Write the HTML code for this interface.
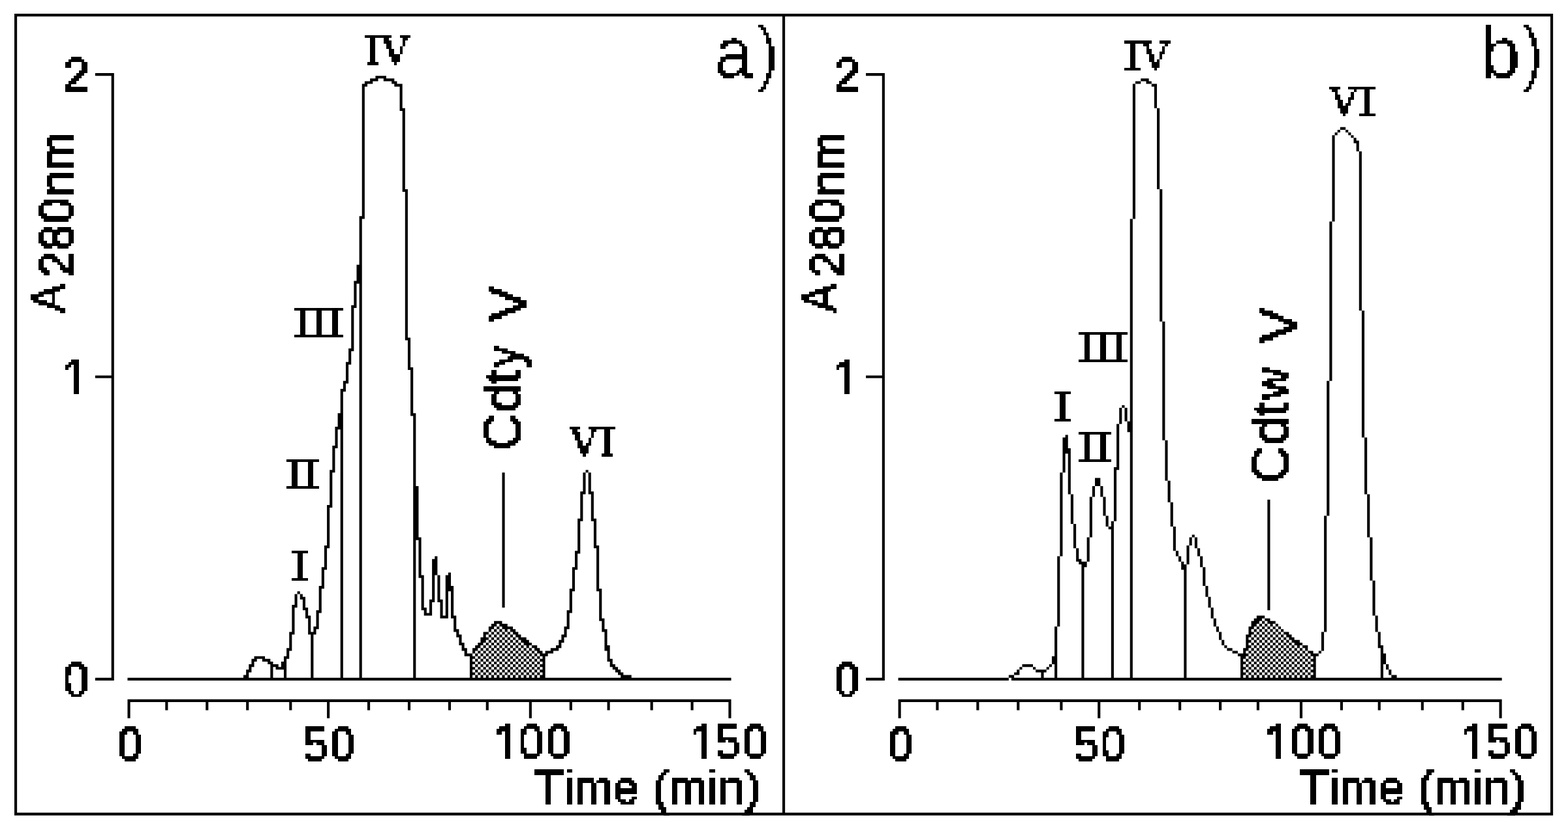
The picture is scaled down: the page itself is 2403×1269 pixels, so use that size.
<!DOCTYPE html>
<html lang="en">
<head>
<meta charset="utf-8">
<title>Chromatograms a) and b)</title>
<style>
html,body{margin:0;padding:0;background:#fff}
body{width:2403px;height:1269px;overflow:hidden}
svg{display:block}
text{fill:#000}
.s{font-family:"Liberation Sans",sans-serif;stroke:#000;stroke-width:1.8px;stroke-linejoin:miter}
.r{font-family:"Liberation Serif",serif;stroke:#000;stroke-width:0.8px}
</style>
</head>
<body>
<svg xmlns="http://www.w3.org/2000/svg" width="2403" height="1269" viewBox="0 0 2403 1269">
<rect width="2403" height="1269" fill="#fff"/>
<path fill="#000" d="M22 21H2380.11V25.14H22ZM145.89 112.02H174.8V116.16H145.89ZM1327.02 112.02H1355.92V116.16H1327.02ZM575.39 116.16H591.91V120.29H575.39ZM567.13 120.29H579.52V124.43H567.13ZM587.78 120.29H604.3V124.43H587.78ZM1748.26 120.29H1760.64V124.43H1748.26ZM1756.52 124.43H1764.77V128.57H1756.52ZM600.17 124.43H608.43V128.57H600.17ZM558.87 124.43H571.26V128.57H558.87ZM1740 124.43H1748.26V128.57H1740ZM604.3 128.57H616.69V132.7H604.3ZM554.74 128.57H563V132.7H554.74ZM1764.77 128.57H1773.03V132.7H1764.77ZM1768.9 132.7H1773.03V165.8H1768.9ZM612.56 132.7H616.69V165.8H612.56ZM612.56 165.8H620.82V169.94H612.56ZM2053.86 194.76H2062.12V198.9H2053.86ZM2062.12 198.9H2066.25V203.04H2062.12ZM2049.73 198.9H2053.86V203.04H2049.73ZM2045.6 203.04H2049.73V207.17H2045.6ZM2066.25 203.04H2070.38V207.17H2066.25ZM2070.38 207.17H2074.51V211.31H2070.38ZM2074.51 211.31H2078.64V215.45H2074.51ZM2074.51 215.45H2082.77V219.59H2074.51ZM2078.64 219.59H2082.77V232H2078.64ZM1773.03 165.8H1777.16V289.92H1773.03ZM616.69 169.94H620.82V289.92H616.69ZM616.69 289.92H624.95V294.06H616.69ZM554.74 132.7H558.87V331.29H554.74ZM1735.87 128.57H1740V335.43H1735.87ZM550.61 331.29H558.87V335.43H550.61ZM2041.47 207.17H2045.6V339.56H2041.47ZM550.61 335.43H554.74V405.76H550.61ZM546.48 405.76H554.74V430.58H546.48ZM542.35 430.58H554.74V434.72H542.35ZM542.35 434.72H546.48V467.82H542.35ZM538.22 467.82H546.48V471.95H538.22ZM2082.77 232H2086.9V476.09H2082.77ZM1777.16 289.92H1781.29V492.64H1777.16ZM620.82 294.06H624.95V517.46H620.82ZM620.82 517.46H629.08V521.6H620.82ZM538.22 471.95H542.35V534.01H538.22ZM534.09 534.01H542.35V538.15H534.09ZM534.09 538.15H538.22V554.7H534.09ZM529.96 554.7H538.22V558.84H529.96ZM624.95 521.6H629.08V562.97H624.95ZM624.95 562.97H633.21V567.11H624.95ZM170.67 116.16H174.8V575.38H170.67ZM1351.79 116.16H1355.92V575.38H1351.79ZM145.89 575.38H174.8V579.52H145.89ZM1327.02 575.38H1355.92V579.52H1327.02ZM2037.34 339.56H2041.47V583.66H2037.34ZM529.96 558.84H534.09V583.66H529.96ZM525.83 583.66H534.09V587.8H525.83ZM525.83 587.8H529.96V596.07H525.83ZM521.7 596.07H529.96V600.21H521.7ZM1719.35 620.89H1723.48V625.03H1719.35ZM629.08 567.11H633.21V633.31H629.08ZM521.7 600.21H525.83V633.31H521.7ZM629.08 633.31H637.34V637.44H629.08ZM1731.74 335.43H1735.87V645.72H1731.74ZM1723.48 625.03H1727.61V645.72H1723.48ZM1715.22 625.03H1719.35V649.85H1715.22ZM517.58 633.31H525.83V653.99H517.58ZM513.45 653.99H525.83V658.13H513.45ZM1727.61 645.72H1735.87V662.27H1727.61ZM2086.9 476.09H2091.03V670.54H2086.9ZM1632.62 666.4H1636.75V670.54H1632.62ZM1781.29 492.64H1785.42V674.68H1781.29ZM513.45 658.13H517.58V682.95H513.45ZM1628.49 670.54H1636.75V687.09H1628.49ZM509.32 682.95H517.58V687.09H509.32ZM1628.49 687.09H1640.88V695.36H1628.49ZM1711.09 649.85H1715.22V716.05H1711.09ZM509.32 687.09H513.45V720.19H509.32ZM1706.96 716.05H1715.22V720.19H1706.96ZM1628.49 695.36H1632.62V724.32H1628.49ZM505.19 720.19H513.45V724.32H505.19ZM897.52 720.19H901.65V724.32H897.52ZM1785.42 674.68H1789.55V736.74H1785.42ZM633.21 637.44H637.34V745.01H633.21ZM1678.05 732.6H1686.31V745.01H1678.05ZM901.65 724.32H905.78V753.28H901.65ZM893.39 724.32H897.52V753.28H893.39ZM2091.03 670.54H2095.16V757.42H2091.03ZM1636.75 695.36H1640.88V757.42H1636.75ZM889.26 753.28H897.52V757.42H889.26ZM901.65 753.28H909.91V757.42H901.65ZM1673.92 745.01H1678.05V761.56H1673.92ZM1686.31 745.01H1690.44V761.56H1686.31ZM1789.55 736.74H1793.68V769.83H1789.55ZM505.19 724.32H509.32V773.97H505.19ZM501.06 773.97H509.32V778.11H501.06ZM2033.21 583.66H2037.34V790.52H2033.21ZM1690.44 761.56H1694.57V790.52H1690.44ZM905.78 757.42H909.91V794.66H905.78ZM889.26 757.42H893.39V794.66H889.26ZM1706.96 720.19H1711.09V798.79H1706.96ZM905.78 794.66H914.04V798.79H905.78ZM885.13 794.66H893.39V798.79H885.13ZM1640.88 757.42H1645.01V802.93H1640.88ZM1793.68 769.83H1797.81V807.07H1793.68ZM1694.57 790.52H1698.7V807.07H1694.57ZM1702.83 798.79H1706.96V807.07H1702.83ZM1698.7 807.07H1706.96V811.21H1698.7ZM633.21 745.01H641.47V823.62H633.21ZM2095.16 757.42H2099.29V823.62H2095.16ZM1669.79 761.56H1673.92V823.62H1669.79ZM1826.72 819.48H1830.85V823.62H1826.72ZM633.21 823.62H645.6V827.75H633.21ZM501.06 778.11H505.19V836.03H501.06ZM909.91 798.79H914.04V836.03H909.91ZM1822.59 823.62H1826.72V836.03H1822.59ZM1645.01 802.93H1649.14V840.17H1645.01ZM1830.85 823.62H1834.98V840.17H1830.85ZM909.91 836.03H918.17V840.17H909.91ZM496.93 836.03H505.19V840.17H496.93ZM885.13 798.79H889.26V844.3H885.13ZM1797.81 807.07H1801.94V844.3H1797.81ZM881 844.3H889.26V848.44H881ZM1624.36 724.32H1628.49V852.58H1624.36ZM1834.98 840.17H1839.11V852.58H1834.98ZM1801.94 844.3H1806.07V852.58H1801.94ZM1649.14 840.17H1653.27V856.71H1649.14ZM666.25 852.58H670.38V856.71H666.25ZM1665.66 823.62H1669.79V860.85H1665.66ZM1806.07 852.58H1810.2V860.85H1806.07ZM1649.14 856.71H1657.4V860.85H1649.14ZM1818.46 836.03H1822.59V864.99H1818.46ZM1810.2 860.85H1814.33V864.99H1810.2ZM1653.27 860.85H1665.66V864.99H1653.27ZM496.93 840.17H501.06V869.13H496.93ZM881 848.44H885.13V869.13H881ZM1839.11 852.58H1843.24V869.13H1839.11ZM1657.4 864.99H1665.66V869.13H1657.4ZM1810.2 864.99H1818.46V873.26H1810.2ZM492.8 869.13H501.06V873.26H492.8ZM876.87 869.13H885.13V873.26H876.87ZM641.47 827.75H645.6V881.54H641.47ZM662.12 856.71H670.38V881.54H662.12ZM686.9 877.4H691.03V881.54H686.9ZM641.47 881.54H649.73V885.67H641.47ZM2099.29 823.62H2103.42V889.81H2099.29ZM1843.24 869.13H1847.37V898.09H1843.24ZM492.8 873.26H496.93V898.09H492.8ZM682.77 881.54H691.03V898.09H682.77ZM914.04 840.17H918.17V902.22H914.04ZM876.87 873.26H881V902.22H876.87ZM488.67 898.09H496.93V902.22H488.67ZM682.77 898.09H695.16V906.36H682.77ZM872.74 902.22H881V906.36H872.74ZM914.04 902.22H922.3V906.36H914.04ZM455.63 906.36H459.76V910.5H455.63ZM1847.37 898.09H1851.5V914.64H1847.37ZM459.76 910.5H463.89V914.64H459.76ZM670.38 881.54H674.51V918.77H670.38ZM662.12 881.54H666.25V918.77H662.12ZM459.76 914.64H468.02V918.77H459.76ZM657.99 918.77H666.25V922.91H657.99ZM670.38 918.77H678.64V922.91H670.38ZM451.5 910.5H455.63V927.05H451.5ZM769.49 724.32H773.62V931.18H769.49ZM645.6 885.67H649.73V931.18H645.6ZM1851.5 914.64H1855.63V931.18H1851.5ZM463.89 918.77H468.02V931.18H463.89ZM447.37 927.05H455.63V931.18H447.37ZM1942.36 765.7H1946.49V935.32H1942.36ZM488.67 902.22H492.8V935.32H488.67ZM872.74 906.36H876.87V935.32H872.74ZM645.6 931.18H653.86V935.32H645.6ZM463.89 931.18H472.15V935.32H463.89ZM657.99 922.91H662.12V939.46H657.99ZM868.61 935.32H876.87V939.46H868.61ZM649.73 935.32H653.86V939.46H649.73ZM484.54 935.32H492.8V939.46H484.54ZM2103.42 889.81H2107.55V943.6H2103.42ZM691.03 906.36H695.16V943.6H691.03ZM682.77 906.36H686.9V943.6H682.77ZM674.51 922.91H678.64V943.6H674.51ZM468.02 935.32H472.15V943.6H468.02ZM649.73 939.46H662.12V943.6H649.73ZM918.17 906.36H922.3V947.73H918.17ZM1855.63 931.18H1859.76V947.73H1855.63ZM468.02 943.6H476.28V947.73H468.02ZM1925.84 943.6H1938.23V947.73H1925.84ZM674.51 943.6H686.9V947.73H674.51ZM691.03 943.6H699.29V947.73H691.03ZM1921.71 947.73H1934.1V951.87H1921.71ZM1938.23 947.73H1946.49V951.87H1938.23ZM918.17 947.73H926.43V951.87H918.17ZM1917.58 951.87H1929.97V956.01H1917.58ZM1942.36 951.87H1954.75V956.01H1942.36ZM1934.1 951.87H1938.23V956.01H1934.1ZM757.1 951.87H769.49V956.01H757.1ZM1620.23 852.58H1624.36V960.14H1620.23ZM484.54 939.46H488.67V960.14H484.54ZM868.61 939.46H872.74V960.14H868.61ZM1859.76 947.73H1863.89V960.14H1859.76ZM752.97 956.01H761.23V960.14H752.97ZM765.36 956.01H777.75V960.14H765.36ZM1946.49 956.01H1950.62V960.14H1946.49ZM1929.97 956.01H1934.1V960.14H1929.97ZM1917.58 956.01H1925.84V960.14H1917.58ZM1954.75 956.01H1958.88V960.14H1954.75ZM1938.23 956.01H1942.36V960.14H1938.23ZM695.16 947.73H699.29V964.28H695.16ZM922.3 951.87H926.43V964.28H922.3ZM864.48 960.14H872.74V964.28H864.48ZM1942.36 960.14H1946.49V964.28H1942.36ZM769.49 960.14H786.01V964.28H769.49ZM1913.45 960.14H1921.71V964.28H1913.45ZM1925.84 960.14H1929.97V964.28H1925.84ZM1950.62 960.14H1954.75V964.28H1950.62ZM480.41 960.14H488.67V964.28H480.41ZM748.84 960.14H757.1V964.28H748.84ZM1934.1 960.14H1938.23V964.28H1934.1ZM761.23 960.14H765.36V964.28H761.23ZM1958.88 960.14H1963.01V964.28H1958.88ZM2029.08 790.52H2033.21V968.42H2029.08ZM447.37 931.18H451.5V968.42H447.37ZM2107.55 943.6H2111.68V968.42H2107.55ZM472.15 947.73H476.28V968.42H472.15ZM1863.89 960.14H1868.02V968.42H1863.89ZM480.41 964.28H484.54V968.42H480.41ZM748.84 964.28H752.97V968.42H748.84ZM1963.01 964.28H1967.13V968.42H1963.01ZM1946.49 964.28H1950.62V968.42H1946.49ZM1929.97 964.28H1934.1V968.42H1929.97ZM695.16 964.28H703.42V968.42H695.16ZM773.62 964.28H777.75V968.42H773.62ZM781.88 964.28H790.14V968.42H781.88ZM1913.45 964.28H1917.58V968.42H1913.45ZM757.1 964.28H761.23V968.42H757.1ZM1921.71 964.28H1925.84V968.42H1921.71ZM1954.75 964.28H1958.88V968.42H1954.75ZM1938.23 964.28H1942.36V968.42H1938.23ZM922.3 964.28H930.56V968.42H922.3ZM765.36 964.28H769.49V968.42H765.36ZM864.48 964.28H868.61V972.56H864.48ZM1942.36 968.42H1946.49V972.56H1942.36ZM1967.13 968.42H1975.39V972.56H1967.13ZM769.49 968.42H773.62V972.56H769.49ZM1913.45 968.42H1921.71V972.56H1913.45ZM1925.84 968.42H1929.97V972.56H1925.84ZM752.97 968.42H757.1V972.56H752.97ZM699.29 968.42H703.42V972.56H699.29ZM740.58 968.42H748.84V972.56H740.58ZM1950.62 968.42H1954.75V972.56H1950.62ZM443.24 968.42H451.5V972.56H443.24ZM777.75 968.42H781.88V972.56H777.75ZM786.01 968.42H794.27V972.56H786.01ZM1934.1 968.42H1938.23V972.56H1934.1ZM472.15 968.42H484.54V972.56H472.15ZM761.23 968.42H765.36V972.56H761.23ZM1958.88 968.42H1963.01V972.56H1958.88ZM1909.32 972.56H1917.58V976.69H1909.32ZM790.14 972.56H798.4V976.69H790.14ZM748.84 972.56H752.97V976.69H748.84ZM699.29 972.56H707.55V976.69H699.29ZM1971.26 972.56H1979.52V976.69H1971.26ZM1963.01 972.56H1967.13V976.69H1963.01ZM1946.49 972.56H1950.62V976.69H1946.49ZM1929.97 972.56H1934.1V976.69H1929.97ZM773.62 972.56H777.75V976.69H773.62ZM757.1 972.56H761.23V976.69H757.1ZM860.35 972.56H868.61V976.69H860.35ZM1954.75 972.56H1958.88V976.69H1954.75ZM740.58 972.56H744.71V976.69H740.58ZM1938.23 972.56H1942.36V976.69H1938.23ZM781.88 972.56H786.01V976.69H781.88ZM1921.71 972.56H1925.84V976.69H1921.71ZM765.36 972.56H769.49V976.69H765.36ZM1868.02 968.42H1872.15V980.83H1868.02ZM794.27 976.69H806.66V980.83H794.27ZM1917.58 976.69H1921.71V980.83H1917.58ZM1942.36 976.69H1946.49V980.83H1942.36ZM786.01 976.69H790.14V980.83H786.01ZM860.35 976.69H864.48V980.83H860.35ZM769.49 976.69H773.62V980.83H769.49ZM1925.84 976.69H1929.97V980.83H1925.84ZM1909.32 976.69H1913.45V980.83H1909.32ZM752.97 976.69H757.1V980.83H752.97ZM1967.13 976.69H1971.26V980.83H1967.13ZM1975.39 976.69H1983.65V980.83H1975.39ZM1950.62 976.69H1954.75V980.83H1950.62ZM777.75 976.69H781.88V980.83H777.75ZM736.45 976.69H748.84V980.83H736.45ZM1934.1 976.69H1938.23V980.83H1934.1ZM761.23 976.69H765.36V980.83H761.23ZM1958.88 976.69H1963.01V980.83H1958.88ZM703.42 976.69H707.55V984.97H703.42ZM798.4 980.83H810.79V984.97H798.4ZM1909.32 980.83H1917.58V984.97H1909.32ZM748.84 980.83H752.97V984.97H748.84ZM736.45 980.83H744.71V984.97H736.45ZM1963.01 980.83H1967.13V984.97H1963.01ZM1979.52 980.83H1991.91V984.97H1979.52ZM856.22 980.83H864.48V984.97H856.22ZM790.14 980.83H794.27V984.97H790.14ZM1946.49 980.83H1950.62V984.97H1946.49ZM1929.97 980.83H1934.1V984.97H1929.97ZM773.62 980.83H777.75V984.97H773.62ZM1971.26 980.83H1975.39V984.97H1971.26ZM757.1 980.83H761.23V984.97H757.1ZM1954.75 980.83H1958.88V984.97H1954.75ZM1938.23 980.83H1942.36V984.97H1938.23ZM781.88 980.83H786.01V984.97H781.88ZM1921.71 980.83H1925.84V984.97H1921.71ZM765.36 980.83H769.49V984.97H765.36ZM2111.68 968.42H2115.81V989.1H2111.68ZM926.43 968.42H930.56V989.1H926.43ZM1872.15 980.83H1876.28V989.1H1872.15ZM744.71 984.97H748.84V989.1H744.71ZM1917.58 984.97H1921.71V989.1H1917.58ZM786.01 984.97H790.14V989.1H786.01ZM1942.36 984.97H1946.49V989.1H1942.36ZM769.49 984.97H773.62V989.1H769.49ZM1925.84 984.97H1929.97V989.1H1925.84ZM802.53 984.97H814.92V989.1H802.53ZM1909.32 984.97H1913.45V989.1H1909.32ZM752.97 984.97H757.1V989.1H752.97ZM703.42 984.97H711.68V989.1H703.42ZM1967.13 984.97H1971.26V989.1H1967.13ZM1950.62 984.97H1954.75V989.1H1950.62ZM794.27 984.97H798.4V989.1H794.27ZM777.75 984.97H781.88V989.1H777.75ZM1983.65 984.97H1996.04V989.1H1983.65ZM856.22 984.97H860.35V989.1H856.22ZM1958.88 984.97H1963.01V989.1H1958.88ZM1934.1 984.97H1938.23V989.1H1934.1ZM1975.39 984.97H1979.52V989.1H1975.39ZM761.23 984.97H765.36V989.1H761.23ZM732.32 984.97H740.58V989.1H732.32ZM443.24 972.56H447.37V993.24H443.24ZM707.55 989.1H711.68V993.24H707.55ZM1909.32 989.1H1917.58V993.24H1909.32ZM1979.52 989.1H1983.65V993.24H1979.52ZM748.84 989.1H752.97V993.24H748.84ZM806.66 989.1H810.79V993.24H806.66ZM814.92 989.1H823.18V993.24H814.92ZM852.09 989.1H860.35V993.24H852.09ZM1963.01 989.1H1967.13V993.24H1963.01ZM1946.49 989.1H1950.62V993.24H1946.49ZM790.14 989.1H794.27V993.24H790.14ZM1987.78 989.1H1991.91V993.24H1987.78ZM1929.97 989.1H1934.1V993.24H1929.97ZM773.62 989.1H777.75V993.24H773.62ZM1971.26 989.1H1975.39V993.24H1971.26ZM757.1 989.1H761.23V993.24H757.1ZM1996.04 989.1H2004.3V993.24H1996.04ZM798.4 989.1H802.53V993.24H798.4ZM1876.28 989.1H1880.41V993.24H1876.28ZM2111.68 989.1H2119.94V993.24H2111.68ZM1954.75 989.1H1958.88V993.24H1954.75ZM728.19 989.1H736.45V993.24H728.19ZM740.58 989.1H744.71V993.24H740.58ZM1938.23 989.1H1942.36V993.24H1938.23ZM781.88 989.1H786.01V993.24H781.88ZM1921.71 989.1H1925.84V993.24H1921.71ZM765.36 989.1H769.49V993.24H765.36ZM2024.95 968.42H2029.08V997.38H2024.95ZM926.43 989.1H934.68V997.38H926.43ZM744.71 993.24H748.84V997.38H744.71ZM1917.58 993.24H1921.71V997.38H1917.58ZM1942.36 993.24H1946.49V997.38H1942.36ZM786.01 993.24H790.14V997.38H786.01ZM2000.17 993.24H2004.3V997.38H2000.17ZM769.49 993.24H773.62V997.38H769.49ZM1925.84 993.24H1929.97V997.38H1925.84ZM1983.65 993.24H1987.78V997.38H1983.65ZM752.97 993.24H757.1V997.38H752.97ZM736.45 993.24H740.58V997.38H736.45ZM843.83 993.24H856.22V997.38H843.83ZM439.11 993.24H447.37V997.38H439.11ZM810.79 993.24H814.92V997.38H810.79ZM819.05 993.24H827.31V997.38H819.05ZM1967.13 993.24H1971.26V997.38H1967.13ZM1880.41 993.24H1888.67V997.38H1880.41ZM724.07 993.24H732.32V997.38H724.07ZM794.27 993.24H798.4V997.38H794.27ZM1950.62 993.24H1954.75V997.38H1950.62ZM1991.91 993.24H1996.04V997.38H1991.91ZM707.55 993.24H715.81V997.38H707.55ZM777.75 993.24H781.88V997.38H777.75ZM1934.1 993.24H1938.23V997.38H1934.1ZM1905.19 993.24H1913.45V997.38H1905.19ZM1975.39 993.24H1979.52V997.38H1975.39ZM761.23 993.24H765.36V997.38H761.23ZM1958.88 993.24H1963.01V997.38H1958.88ZM802.53 993.24H806.66V997.38H802.53ZM2115.81 993.24H2119.94V1001.52H2115.81ZM835.57 997.38H847.96V1001.52H835.57ZM1996.04 997.38H2000.17V1001.52H1996.04ZM1979.52 997.38H1983.65V1001.52H1979.52ZM748.84 997.38H752.97V1001.52H748.84ZM2004.3 997.38H2012.56V1001.52H2004.3ZM806.66 997.38H810.79V1001.52H806.66ZM1905.19 997.38H1909.32V1001.52H1905.19ZM711.68 997.38H715.81V1001.52H711.68ZM2020.82 997.38H2024.95V1001.52H2020.82ZM1963.01 997.38H1967.13V1001.52H1963.01ZM732.32 997.38H736.45V1001.52H732.32ZM1946.49 997.38H1950.62V1001.52H1946.49ZM790.14 997.38H794.27V1001.52H790.14ZM1987.78 997.38H1991.91V1001.52H1987.78ZM1929.97 997.38H1934.1V1001.52H1929.97ZM773.62 997.38H777.75V1001.52H773.62ZM1971.26 997.38H1975.39V1001.52H1971.26ZM814.92 997.38H819.05V1001.52H814.92ZM1913.45 997.38H1917.58V1001.52H1913.45ZM757.1 997.38H761.23V1001.52H757.1ZM798.4 997.38H802.53V1001.52H798.4ZM823.18 997.38H831.44V1001.52H823.18ZM1954.75 997.38H1958.88V1001.52H1954.75ZM740.58 997.38H744.71V1001.52H740.58ZM1938.23 997.38H1942.36V1001.52H1938.23ZM781.88 997.38H786.01V1001.52H781.88ZM724.07 997.38H728.19V1001.52H724.07ZM1888.67 997.38H1896.93V1001.52H1888.67ZM1921.71 997.38H1925.84V1001.52H1921.71ZM765.36 997.38H769.49V1001.52H765.36ZM1616.1 960.14H1620.23V1005.65H1616.1ZM439.11 997.38H443.24V1005.65H439.11ZM744.71 1001.52H748.84V1005.65H744.71ZM1917.58 1001.52H1921.71V1005.65H1917.58ZM1942.36 1001.52H1946.49V1005.65H1942.36ZM786.01 1001.52H790.14V1005.65H786.01ZM728.19 1001.52H732.32V1005.65H728.19ZM2000.17 1001.52H2004.3V1005.65H2000.17ZM769.49 1001.52H773.62V1005.65H769.49ZM1925.84 1001.52H1929.97V1005.65H1925.84ZM1983.65 1001.52H1987.78V1005.65H1983.65ZM752.97 1001.52H757.1V1005.65H752.97ZM736.45 1001.52H740.58V1005.65H736.45ZM810.79 1001.52H814.92V1005.65H810.79ZM711.68 1001.52H724.07V1005.65H711.68ZM1967.13 1001.52H1971.26V1005.65H1967.13ZM1950.62 1001.52H1954.75V1005.65H1950.62ZM794.27 1001.52H798.4V1005.65H794.27ZM827.31 1001.52H839.7V1005.65H827.31ZM1991.91 1001.52H1996.04V1005.65H1991.91ZM777.75 1001.52H781.88V1005.65H777.75ZM1934.1 1001.52H1938.23V1005.65H1934.1ZM1896.93 1001.52H1913.45V1005.65H1896.93ZM2008.43 1001.52H2020.82V1005.65H2008.43ZM1975.39 1001.52H1979.52V1005.65H1975.39ZM819.05 1001.52H823.18V1005.65H819.05ZM761.23 1001.52H765.36V1005.65H761.23ZM1958.88 1001.52H1963.01V1005.65H1958.88ZM802.53 1001.52H806.66V1005.65H802.53ZM930.56 997.38H934.68V1009.79H930.56ZM1996.04 1005.65H2000.17V1009.79H1996.04ZM1979.52 1005.65H1983.65V1009.79H1979.52ZM748.84 1005.65H752.97V1009.79H748.84ZM823.18 1005.65H827.31V1009.79H823.18ZM806.66 1005.65H810.79V1009.79H806.66ZM389.55 1005.65H406.07V1009.79H389.55ZM719.94 1005.65H728.19V1009.79H719.94ZM1963.01 1005.65H1967.13V1009.79H1963.01ZM434.98 1005.65H443.24V1009.79H434.98ZM732.32 1005.65H736.45V1009.79H732.32ZM1946.49 1005.65H1950.62V1009.79H1946.49ZM790.14 1005.65H794.27V1009.79H790.14ZM1987.78 1005.65H1991.91V1009.79H1987.78ZM1929.97 1005.65H1934.1V1009.79H1929.97ZM773.62 1005.65H777.75V1009.79H773.62ZM2004.3 1005.65H2008.43V1009.79H2004.3ZM1971.26 1005.65H1975.39V1009.79H1971.26ZM814.92 1005.65H819.05V1009.79H814.92ZM1913.45 1005.65H1917.58V1009.79H1913.45ZM757.1 1005.65H761.23V1009.79H757.1ZM831.44 1005.65H835.57V1009.79H831.44ZM798.4 1005.65H802.53V1009.79H798.4ZM1901.06 1005.65H1909.32V1009.79H1901.06ZM1954.75 1005.65H1958.88V1009.79H1954.75ZM740.58 1005.65H744.71V1009.79H740.58ZM1938.23 1005.65H1942.36V1009.79H1938.23ZM2012.56 1005.65H2016.69V1009.79H2012.56ZM781.88 1005.65H786.01V1009.79H781.88ZM1921.71 1005.65H1925.84V1009.79H1921.71ZM765.36 1005.65H769.49V1009.79H765.36ZM827.31 1009.79H835.57V1013.93H827.31ZM1901.06 1009.79H1905.19V1013.93H1901.06ZM744.71 1009.79H748.84V1013.93H744.71ZM1917.58 1009.79H1921.71V1013.93H1917.58ZM1942.36 1009.79H1946.49V1013.93H1942.36ZM786.01 1009.79H790.14V1013.93H786.01ZM728.19 1009.79H732.32V1013.93H728.19ZM401.94 1009.79H414.33V1013.93H401.94ZM2000.17 1009.79H2004.3V1013.93H2000.17ZM769.49 1009.79H773.62V1013.93H769.49ZM2008.43 1009.79H2016.69V1013.93H2008.43ZM1925.84 1009.79H1929.97V1013.93H1925.84ZM1909.32 1009.79H1913.45V1013.93H1909.32ZM1983.65 1009.79H1987.78V1013.93H1983.65ZM752.97 1009.79H757.1V1013.93H752.97ZM930.56 1009.79H938.81V1013.93H930.56ZM736.45 1009.79H740.58V1013.93H736.45ZM810.79 1009.79H814.92V1013.93H810.79ZM1967.13 1009.79H1971.26V1013.93H1967.13ZM385.42 1009.79H393.68V1013.93H385.42ZM719.94 1009.79H724.07V1013.93H719.94ZM794.27 1009.79H798.4V1013.93H794.27ZM1950.62 1009.79H1954.75V1013.93H1950.62ZM434.98 1009.79H439.11V1013.93H434.98ZM1991.91 1009.79H1996.04V1013.93H1991.91ZM777.75 1009.79H781.88V1013.93H777.75ZM1934.1 1009.79H1938.23V1013.93H1934.1ZM1975.39 1009.79H1979.52V1013.93H1975.39ZM819.05 1009.79H823.18V1013.93H819.05ZM761.23 1009.79H765.36V1013.93H761.23ZM1958.88 1009.79H1963.01V1013.93H1958.88ZM802.53 1009.79H806.66V1013.93H802.53ZM2115.81 1001.52H2124.07V1018.07H2115.81ZM1611.97 1005.65H1620.23V1018.07H1611.97ZM934.68 1013.93H938.81V1018.07H934.68ZM1996.04 1013.93H2000.17V1018.07H1996.04ZM410.2 1013.93H418.46V1018.07H410.2ZM1979.52 1013.93H1983.65V1018.07H1979.52ZM748.84 1013.93H752.97V1018.07H748.84ZM823.18 1013.93H827.31V1018.07H823.18ZM806.66 1013.93H810.79V1018.07H806.66ZM719.94 1013.93H728.19V1018.07H719.94ZM1963.01 1013.93H1967.13V1018.07H1963.01ZM732.32 1013.93H736.45V1018.07H732.32ZM1946.49 1013.93H1950.62V1018.07H1946.49ZM790.14 1013.93H794.27V1018.07H790.14ZM1987.78 1013.93H1991.91V1018.07H1987.78ZM1929.97 1013.93H1934.1V1018.07H1929.97ZM773.62 1013.93H777.75V1018.07H773.62ZM2004.3 1013.93H2008.43V1018.07H2004.3ZM1971.26 1013.93H1975.39V1018.07H1971.26ZM814.92 1013.93H819.05V1018.07H814.92ZM1913.45 1013.93H1917.58V1018.07H1913.45ZM757.1 1013.93H761.23V1018.07H757.1ZM831.44 1013.93H835.57V1018.07H831.44ZM798.4 1013.93H802.53V1018.07H798.4ZM1901.06 1013.93H1909.32V1018.07H1901.06ZM1954.75 1013.93H1958.88V1018.07H1954.75ZM740.58 1013.93H744.71V1018.07H740.58ZM1938.23 1013.93H1942.36V1018.07H1938.23ZM385.42 1013.93H389.55V1018.07H385.42ZM2012.56 1013.93H2016.69V1018.07H2012.56ZM781.88 1013.93H786.01V1018.07H781.88ZM1921.71 1013.93H1925.84V1018.07H1921.71ZM765.36 1013.93H769.49V1018.07H765.36ZM430.85 1013.93H439.11V1022.2H430.85ZM827.31 1018.07H835.57V1022.2H827.31ZM1901.06 1018.07H1905.19V1022.2H1901.06ZM744.71 1018.07H748.84V1022.2H744.71ZM1917.58 1018.07H1921.71V1022.2H1917.58ZM1942.36 1018.07H1946.49V1022.2H1942.36ZM786.01 1018.07H790.14V1022.2H786.01ZM728.19 1018.07H732.32V1022.2H728.19ZM2000.17 1018.07H2004.3V1022.2H2000.17ZM769.49 1018.07H773.62V1022.2H769.49ZM2008.43 1018.07H2016.69V1022.2H2008.43ZM1925.84 1018.07H1929.97V1022.2H1925.84ZM1909.32 1018.07H1913.45V1022.2H1909.32ZM1566.54 1018.07H1583.06V1022.2H1566.54ZM1983.65 1018.07H1987.78V1022.2H1983.65ZM752.97 1018.07H757.1V1022.2H752.97ZM736.45 1018.07H740.58V1022.2H736.45ZM810.79 1018.07H814.92V1022.2H810.79ZM1967.13 1018.07H1971.26V1022.2H1967.13ZM381.29 1018.07H389.55V1022.2H381.29ZM1607.84 1018.07H1611.97V1022.2H1607.84ZM1950.62 1018.07H1954.75V1022.2H1950.62ZM719.94 1018.07H724.07V1022.2H719.94ZM794.27 1018.07H798.4V1022.2H794.27ZM934.68 1018.07H942.94V1022.2H934.68ZM1991.91 1018.07H1996.04V1022.2H1991.91ZM777.75 1018.07H781.88V1022.2H777.75ZM1934.1 1018.07H1938.23V1022.2H1934.1ZM414.33 1018.07H426.72V1022.2H414.33ZM819.05 1018.07H823.18V1022.2H819.05ZM1975.39 1018.07H1979.52V1022.2H1975.39ZM761.23 1018.07H765.36V1022.2H761.23ZM1958.88 1018.07H1963.01V1022.2H1958.88ZM802.53 1018.07H806.66V1022.2H802.53ZM2124.07 1018.07H2128.2V1026.34H2124.07ZM1996.04 1022.2H2000.17V1026.34H1996.04ZM1979.52 1022.2H1983.65V1026.34H1979.52ZM748.84 1022.2H752.97V1026.34H748.84ZM823.18 1022.2H827.31V1026.34H823.18ZM1562.41 1022.2H1566.54V1026.34H1562.41ZM806.66 1022.2H810.79V1026.34H806.66ZM1583.06 1022.2H1587.19V1026.34H1583.06ZM719.94 1022.2H728.19V1026.34H719.94ZM1963.01 1022.2H1967.13V1026.34H1963.01ZM732.32 1022.2H736.45V1026.34H732.32ZM1603.71 1022.2H1607.84V1026.34H1603.71ZM1946.49 1022.2H1950.62V1026.34H1946.49ZM790.14 1022.2H794.27V1026.34H790.14ZM1987.78 1022.2H1991.91V1026.34H1987.78ZM1929.97 1022.2H1934.1V1026.34H1929.97ZM773.62 1022.2H777.75V1026.34H773.62ZM2004.3 1022.2H2008.43V1026.34H2004.3ZM1971.26 1022.2H1975.39V1026.34H1971.26ZM814.92 1022.2H819.05V1026.34H814.92ZM1913.45 1022.2H1917.58V1026.34H1913.45ZM757.1 1022.2H761.23V1026.34H757.1ZM831.44 1022.2H835.57V1026.34H831.44ZM798.4 1022.2H802.53V1026.34H798.4ZM1901.06 1022.2H1909.32V1026.34H1901.06ZM1954.75 1022.2H1958.88V1026.34H1954.75ZM740.58 1022.2H744.71V1026.34H740.58ZM938.81 1022.2H947.07V1026.34H938.81ZM1938.23 1022.2H1942.36V1026.34H1938.23ZM381.29 1022.2H385.42V1026.34H381.29ZM2012.56 1022.2H2016.69V1026.34H2012.56ZM781.88 1022.2H786.01V1026.34H781.88ZM422.59 1022.2H439.11V1026.34H422.59ZM1921.71 1022.2H1925.84V1026.34H1921.71ZM765.36 1022.2H769.49V1026.34H765.36ZM827.31 1026.34H835.57V1030.48H827.31ZM1901.06 1026.34H1905.19V1030.48H1901.06ZM744.71 1026.34H748.84V1030.48H744.71ZM1917.58 1026.34H1921.71V1030.48H1917.58ZM942.94 1026.34H951.2V1030.48H942.94ZM786.01 1026.34H790.14V1030.48H786.01ZM1942.36 1026.34H1946.49V1030.48H1942.36ZM728.19 1026.34H732.32V1030.48H728.19ZM2000.17 1026.34H2004.3V1030.48H2000.17ZM769.49 1026.34H773.62V1030.48H769.49ZM377.16 1026.34H385.42V1030.48H377.16ZM2008.43 1026.34H2016.69V1030.48H2008.43ZM1925.84 1026.34H1929.97V1030.48H1925.84ZM1909.32 1026.34H1913.45V1030.48H1909.32ZM1983.65 1026.34H1987.78V1030.48H1983.65ZM752.97 1026.34H757.1V1030.48H752.97ZM1587.19 1026.34H1603.71V1030.48H1587.19ZM736.45 1026.34H740.58V1030.48H736.45ZM810.79 1026.34H814.92V1030.48H810.79ZM1967.13 1026.34H1971.26V1030.48H1967.13ZM1950.62 1026.34H1954.75V1030.48H1950.62ZM719.94 1026.34H724.07V1030.48H719.94ZM794.27 1026.34H798.4V1030.48H794.27ZM1991.91 1026.34H1996.04V1030.48H1991.91ZM777.75 1026.34H781.88V1030.48H777.75ZM1558.28 1026.34H1562.41V1030.48H1558.28ZM1934.1 1026.34H1938.23V1030.48H1934.1ZM1975.39 1026.34H1979.52V1030.48H1975.39ZM819.05 1026.34H823.18V1030.48H819.05ZM761.23 1026.34H765.36V1030.48H761.23ZM1958.88 1026.34H1963.01V1030.48H1958.88ZM802.53 1026.34H806.66V1030.48H802.53ZM2128.2 1026.34H2132.33V1034.61H2128.2ZM1996.04 1030.48H2000.17V1034.61H1996.04ZM1979.52 1030.48H1983.65V1034.61H1979.52ZM748.84 1030.48H752.97V1034.61H748.84ZM823.18 1030.48H827.31V1034.61H823.18ZM806.66 1030.48H810.79V1034.61H806.66ZM719.94 1030.48H728.19V1034.61H719.94ZM1963.01 1030.48H1967.13V1034.61H1963.01ZM732.32 1030.48H736.45V1034.61H732.32ZM947.07 1030.48H955.33V1034.61H947.07ZM1946.49 1030.48H1950.62V1034.61H1946.49ZM790.14 1030.48H794.27V1034.61H790.14ZM1554.15 1030.48H1562.41V1034.61H1554.15ZM1987.78 1030.48H1991.91V1034.61H1987.78ZM1929.97 1030.48H1934.1V1034.61H1929.97ZM377.16 1030.48H381.29V1034.61H377.16ZM773.62 1030.48H777.75V1034.61H773.62ZM2004.3 1030.48H2008.43V1034.61H2004.3ZM1971.26 1030.48H1975.39V1034.61H1971.26ZM814.92 1030.48H819.05V1034.61H814.92ZM1913.45 1030.48H1917.58V1034.61H1913.45ZM757.1 1030.48H761.23V1034.61H757.1ZM831.44 1030.48H835.57V1034.61H831.44ZM798.4 1030.48H802.53V1034.61H798.4ZM1901.06 1030.48H1909.32V1034.61H1901.06ZM1954.75 1030.48H1958.88V1034.61H1954.75ZM740.58 1030.48H744.71V1034.61H740.58ZM1938.23 1030.48H1942.36V1034.61H1938.23ZM2012.56 1030.48H2016.69V1034.61H2012.56ZM781.88 1030.48H786.01V1034.61H781.88ZM1921.71 1030.48H1925.84V1034.61H1921.71ZM765.36 1030.48H769.49V1034.61H765.36ZM550.61 434.72H554.74V1038.75H550.61ZM170.67 579.52H174.8V1038.75H170.67ZM1351.79 579.52H1355.92V1038.75H1351.79ZM521.7 658.13H525.83V1038.75H521.7ZM1731.74 662.27H1735.87V1038.75H1731.74ZM1702.83 811.21H1706.96V1038.75H1702.83ZM633.21 827.75H637.34V1038.75H633.21ZM1657.4 869.13H1661.53V1038.75H1657.4ZM1814.33 873.26H1818.46V1038.75H1814.33ZM476.28 972.56H480.41V1038.75H476.28ZM1616.1 1018.07H1620.23V1038.75H1616.1ZM2115.81 1018.07H2119.94V1038.75H2115.81ZM414.33 1022.2H418.46V1038.75H414.33ZM434.98 1026.34H439.11V1038.75H434.98ZM1595.45 1030.48H1599.58V1038.75H1595.45ZM373.03 1034.61H381.29V1038.75H373.03ZM827.31 1034.61H835.57V1038.75H827.31ZM1901.06 1034.61H1905.19V1038.75H1901.06ZM744.71 1034.61H748.84V1038.75H744.71ZM1917.58 1034.61H1921.71V1038.75H1917.58ZM1942.36 1034.61H1946.49V1038.75H1942.36ZM786.01 1034.61H790.14V1038.75H786.01ZM728.19 1034.61H732.32V1038.75H728.19ZM2000.17 1034.61H2004.3V1038.75H2000.17ZM769.49 1034.61H773.62V1038.75H769.49ZM2008.43 1034.61H2016.69V1038.75H2008.43ZM1925.84 1034.61H1929.97V1038.75H1925.84ZM1909.32 1034.61H1913.45V1038.75H1909.32ZM1983.65 1034.61H1987.78V1038.75H1983.65ZM752.97 1034.61H757.1V1038.75H752.97ZM736.45 1034.61H740.58V1038.75H736.45ZM810.79 1034.61H814.92V1038.75H810.79ZM1967.13 1034.61H1971.26V1038.75H1967.13ZM1950.62 1034.61H1954.75V1038.75H1950.62ZM719.94 1034.61H724.07V1038.75H719.94ZM794.27 1034.61H798.4V1038.75H794.27ZM1991.91 1034.61H1996.04V1038.75H1991.91ZM777.75 1034.61H781.88V1038.75H777.75ZM1934.1 1034.61H1938.23V1038.75H1934.1ZM2132.33 1034.61H2140.59V1038.75H2132.33ZM1545.9 1034.61H1554.15V1038.75H1545.9ZM1975.39 1034.61H1979.52V1038.75H1975.39ZM819.05 1034.61H823.18V1038.75H819.05ZM951.2 1034.61H967.72V1038.75H951.2ZM761.23 1034.61H765.36V1038.75H761.23ZM1958.88 1034.61H1963.01V1038.75H1958.88ZM802.53 1034.61H806.66V1038.75H802.53ZM1376.57 1038.75H1545.9V1042.89H1376.57ZM1550.03 1038.75H2301.65V1042.89H1550.03ZM195.45 1038.75H1120.53V1042.89H195.45ZM145.89 1038.75H174.8V1042.89H145.89ZM1327.02 1038.75H1355.92V1042.89H1327.02ZM1376.57 1071.85H2301.65V1075.99H1376.57ZM195.45 1071.85H1120.53V1075.99H195.45ZM253.27 1075.99H257.4V1088.4H253.27ZM443.24 1075.99H447.37V1088.4H443.24ZM744.71 1075.99H748.84V1088.4H744.71ZM2111.68 1075.99H2115.81V1088.4H2111.68ZM2053.86 1075.99H2057.99V1088.4H2053.86ZM1868.02 1075.99H1872.15V1088.4H1868.02ZM315.21 1075.99H319.34V1088.4H315.21ZM563 1075.99H567.13V1088.4H563ZM1925.84 1075.99H1929.97V1088.4H1925.84ZM996.63 1075.99H1000.76V1088.4H996.63ZM1434.39 1075.99H1438.52V1088.4H1434.39ZM2177.75 1075.99H2181.88V1088.4H2177.75ZM1058.58 1075.99H1062.71V1088.4H1058.58ZM1624.36 1075.99H1628.49V1088.4H1624.36ZM377.16 1075.99H381.29V1088.4H377.16ZM624.95 1075.99H629.08V1088.4H624.95ZM1496.34 1075.99H1500.47V1088.4H1496.34ZM872.74 1075.99H876.87V1088.4H872.74ZM1744.13 1075.99H1748.26V1088.4H1744.13ZM1558.28 1075.99H1562.41V1088.4H1558.28ZM930.56 1075.99H934.68V1088.4H930.56ZM2239.7 1075.99H2243.83V1088.4H2239.7ZM1806.07 1075.99H1810.2V1088.4H1806.07ZM686.9 1075.99H691.03V1088.4H686.9ZM2297.52 1075.99H2301.65V1100.81H2297.52ZM501.06 1075.99H505.19V1100.81H501.06ZM1376.57 1075.99H1380.7V1100.81H1376.57ZM1682.18 1075.99H1686.31V1100.81H1682.18ZM810.79 1075.99H814.92V1100.81H810.79ZM1116.4 1075.99H1120.53V1100.81H1116.4ZM1991.91 1075.99H1996.04V1100.81H1991.91ZM195.45 1075.99H199.58V1100.81H195.45ZM1198.99 25.14H1203.12V1245.61H1198.99ZM22 25.14H26.13V1245.61H22ZM2375.99 25.14H2380.11V1245.61H2375.99ZM22 1245.61H2380.11V1249.75H22Z"/>
<defs>
<mask id="mv" maskUnits="userSpaceOnUse" x="0" y="0" width="2403" height="1269"><path fill="#fff" d="M3 0h1V1269h-1ZM7 0h1V1269h-1ZM12 0h1V1269h-1ZM16 0h1V1269h-1ZM20 0h1V1269h-1ZM24 0h1V1269h-1ZM28 0h1V1269h-1ZM32 0h1V1269h-1ZM36 0h1V1269h-1ZM41 0h1V1269h-1ZM45 0h1V1269h-1ZM49 0h1V1269h-1ZM53 0h1V1269h-1ZM57 0h1V1269h-1ZM61 0h1V1269h-1ZM65 0h1V1269h-1ZM69 0h1V1269h-1ZM74 0h1V1269h-1ZM78 0h1V1269h-1ZM82 0h1V1269h-1ZM86 0h1V1269h-1ZM90 0h1V1269h-1ZM94 0h1V1269h-1ZM98 0h1V1269h-1ZM102 0h1V1269h-1ZM107 0h1V1269h-1ZM111 0h1V1269h-1ZM115 0h1V1269h-1ZM119 0h1V1269h-1ZM123 0h1V1269h-1ZM127 0h1V1269h-1ZM131 0h1V1269h-1ZM136 0h1V1269h-1ZM140 0h1V1269h-1ZM144 0h1V1269h-1ZM148 0h1V1269h-1ZM152 0h1V1269h-1ZM156 0h1V1269h-1ZM160 0h1V1269h-1ZM164 0h1V1269h-1ZM169 0h1V1269h-1ZM173 0h1V1269h-1ZM177 0h1V1269h-1ZM181 0h1V1269h-1ZM185 0h1V1269h-1ZM189 0h1V1269h-1ZM193 0h1V1269h-1ZM197 0h1V1269h-1ZM202 0h1V1269h-1ZM206 0h1V1269h-1ZM210 0h1V1269h-1ZM214 0h1V1269h-1ZM218 0h1V1269h-1ZM222 0h1V1269h-1ZM226 0h1V1269h-1ZM230 0h1V1269h-1ZM235 0h1V1269h-1ZM239 0h1V1269h-1ZM243 0h1V1269h-1ZM247 0h1V1269h-1ZM251 0h1V1269h-1ZM255 0h1V1269h-1ZM259 0h1V1269h-1ZM264 0h1V1269h-1ZM268 0h1V1269h-1ZM272 0h1V1269h-1ZM276 0h1V1269h-1ZM280 0h1V1269h-1ZM284 0h1V1269h-1ZM288 0h1V1269h-1ZM292 0h1V1269h-1ZM297 0h1V1269h-1ZM301 0h1V1269h-1ZM305 0h1V1269h-1ZM309 0h1V1269h-1ZM313 0h1V1269h-1ZM317 0h1V1269h-1ZM321 0h1V1269h-1ZM325 0h1V1269h-1ZM330 0h1V1269h-1ZM334 0h1V1269h-1ZM338 0h1V1269h-1ZM342 0h1V1269h-1ZM346 0h1V1269h-1ZM350 0h1V1269h-1ZM354 0h1V1269h-1ZM359 0h1V1269h-1ZM363 0h1V1269h-1ZM367 0h1V1269h-1ZM371 0h1V1269h-1ZM375 0h1V1269h-1ZM379 0h1V1269h-1ZM383 0h1V1269h-1ZM387 0h1V1269h-1ZM392 0h1V1269h-1ZM396 0h1V1269h-1ZM400 0h1V1269h-1ZM404 0h1V1269h-1ZM408 0h1V1269h-1ZM412 0h1V1269h-1ZM416 0h1V1269h-1ZM420 0h1V1269h-1ZM425 0h1V1269h-1ZM429 0h1V1269h-1ZM433 0h1V1269h-1ZM437 0h1V1269h-1ZM441 0h1V1269h-1ZM445 0h1V1269h-1ZM449 0h1V1269h-1ZM453 0h1V1269h-1ZM458 0h1V1269h-1ZM462 0h1V1269h-1ZM466 0h1V1269h-1ZM470 0h1V1269h-1ZM474 0h1V1269h-1ZM478 0h1V1269h-1ZM482 0h1V1269h-1ZM487 0h1V1269h-1ZM491 0h1V1269h-1ZM495 0h1V1269h-1ZM499 0h1V1269h-1ZM503 0h1V1269h-1ZM507 0h1V1269h-1ZM511 0h1V1269h-1ZM515 0h1V1269h-1ZM520 0h1V1269h-1ZM524 0h1V1269h-1ZM528 0h1V1269h-1ZM532 0h1V1269h-1ZM536 0h1V1269h-1ZM540 0h1V1269h-1ZM544 0h1V1269h-1ZM548 0h1V1269h-1ZM553 0h1V1269h-1ZM557 0h1V1269h-1ZM561 0h1V1269h-1ZM565 0h1V1269h-1ZM569 0h1V1269h-1ZM573 0h1V1269h-1ZM577 0h1V1269h-1ZM582 0h1V1269h-1ZM586 0h1V1269h-1ZM590 0h1V1269h-1ZM594 0h1V1269h-1ZM598 0h1V1269h-1ZM602 0h1V1269h-1ZM606 0h1V1269h-1ZM610 0h1V1269h-1ZM615 0h1V1269h-1ZM619 0h1V1269h-1ZM623 0h1V1269h-1ZM627 0h1V1269h-1ZM631 0h1V1269h-1ZM635 0h1V1269h-1ZM639 0h1V1269h-1ZM643 0h1V1269h-1ZM648 0h1V1269h-1ZM652 0h1V1269h-1ZM656 0h1V1269h-1ZM660 0h1V1269h-1ZM664 0h1V1269h-1ZM668 0h1V1269h-1ZM672 0h1V1269h-1ZM677 0h1V1269h-1ZM681 0h1V1269h-1ZM685 0h1V1269h-1ZM689 0h1V1269h-1ZM693 0h1V1269h-1ZM697 0h1V1269h-1ZM701 0h1V1269h-1ZM705 0h1V1269h-1ZM710 0h1V1269h-1ZM714 0h1V1269h-1ZM718 0h1V1269h-1ZM722 0h1V1269h-1ZM726 0h1V1269h-1ZM730 0h1V1269h-1ZM734 0h1V1269h-1ZM738 0h1V1269h-1ZM743 0h1V1269h-1ZM747 0h1V1269h-1ZM751 0h1V1269h-1ZM755 0h1V1269h-1ZM759 0h1V1269h-1ZM763 0h1V1269h-1ZM767 0h1V1269h-1ZM771 0h1V1269h-1ZM776 0h1V1269h-1ZM780 0h1V1269h-1ZM784 0h1V1269h-1ZM788 0h1V1269h-1ZM792 0h1V1269h-1ZM796 0h1V1269h-1ZM800 0h1V1269h-1ZM805 0h1V1269h-1ZM809 0h1V1269h-1ZM813 0h1V1269h-1ZM817 0h1V1269h-1ZM821 0h1V1269h-1ZM825 0h1V1269h-1ZM829 0h1V1269h-1ZM833 0h1V1269h-1ZM838 0h1V1269h-1ZM842 0h1V1269h-1ZM846 0h1V1269h-1ZM850 0h1V1269h-1ZM854 0h1V1269h-1ZM858 0h1V1269h-1ZM862 0h1V1269h-1ZM866 0h1V1269h-1ZM871 0h1V1269h-1ZM875 0h1V1269h-1ZM879 0h1V1269h-1ZM883 0h1V1269h-1ZM887 0h1V1269h-1ZM891 0h1V1269h-1ZM895 0h1V1269h-1ZM900 0h1V1269h-1ZM904 0h1V1269h-1ZM908 0h1V1269h-1ZM912 0h1V1269h-1ZM916 0h1V1269h-1ZM920 0h1V1269h-1ZM924 0h1V1269h-1ZM928 0h1V1269h-1ZM933 0h1V1269h-1ZM937 0h1V1269h-1ZM941 0h1V1269h-1ZM945 0h1V1269h-1ZM949 0h1V1269h-1ZM953 0h1V1269h-1ZM957 0h1V1269h-1ZM961 0h1V1269h-1ZM966 0h1V1269h-1ZM970 0h1V1269h-1ZM974 0h1V1269h-1ZM978 0h1V1269h-1ZM982 0h1V1269h-1ZM986 0h1V1269h-1ZM990 0h1V1269h-1ZM995 0h1V1269h-1ZM999 0h1V1269h-1ZM1003 0h1V1269h-1ZM1007 0h1V1269h-1ZM1011 0h1V1269h-1ZM1015 0h1V1269h-1ZM1019 0h1V1269h-1ZM1023 0h1V1269h-1ZM1028 0h1V1269h-1ZM1032 0h1V1269h-1ZM1036 0h1V1269h-1ZM1040 0h1V1269h-1ZM1044 0h1V1269h-1ZM1048 0h1V1269h-1ZM1052 0h1V1269h-1ZM1056 0h1V1269h-1ZM1061 0h1V1269h-1ZM1065 0h1V1269h-1ZM1069 0h1V1269h-1ZM1073 0h1V1269h-1ZM1077 0h1V1269h-1ZM1081 0h1V1269h-1ZM1085 0h1V1269h-1ZM1089 0h1V1269h-1ZM1094 0h1V1269h-1ZM1098 0h1V1269h-1ZM1102 0h1V1269h-1ZM1106 0h1V1269h-1ZM1110 0h1V1269h-1ZM1114 0h1V1269h-1ZM1118 0h1V1269h-1ZM1123 0h1V1269h-1ZM1127 0h1V1269h-1ZM1131 0h1V1269h-1ZM1135 0h1V1269h-1ZM1139 0h1V1269h-1ZM1143 0h1V1269h-1ZM1147 0h1V1269h-1ZM1151 0h1V1269h-1ZM1156 0h1V1269h-1ZM1160 0h1V1269h-1ZM1164 0h1V1269h-1ZM1168 0h1V1269h-1ZM1172 0h1V1269h-1ZM1176 0h1V1269h-1ZM1180 0h1V1269h-1ZM1184 0h1V1269h-1ZM1189 0h1V1269h-1ZM1193 0h1V1269h-1ZM1197 0h1V1269h-1ZM1201 0h1V1269h-1ZM1205 0h1V1269h-1ZM1209 0h1V1269h-1ZM1213 0h1V1269h-1ZM1218 0h1V1269h-1ZM1222 0h1V1269h-1ZM1226 0h1V1269h-1ZM1230 0h1V1269h-1ZM1234 0h1V1269h-1ZM1238 0h1V1269h-1ZM1242 0h1V1269h-1ZM1246 0h1V1269h-1ZM1251 0h1V1269h-1ZM1255 0h1V1269h-1ZM1259 0h1V1269h-1ZM1263 0h1V1269h-1ZM1267 0h1V1269h-1ZM1271 0h1V1269h-1ZM1275 0h1V1269h-1ZM1279 0h1V1269h-1ZM1284 0h1V1269h-1ZM1288 0h1V1269h-1ZM1292 0h1V1269h-1ZM1296 0h1V1269h-1ZM1300 0h1V1269h-1ZM1304 0h1V1269h-1ZM1308 0h1V1269h-1ZM1312 0h1V1269h-1ZM1317 0h1V1269h-1ZM1321 0h1V1269h-1ZM1325 0h1V1269h-1ZM1329 0h1V1269h-1ZM1333 0h1V1269h-1ZM1337 0h1V1269h-1ZM1341 0h1V1269h-1ZM1346 0h1V1269h-1ZM1350 0h1V1269h-1ZM1354 0h1V1269h-1ZM1358 0h1V1269h-1ZM1362 0h1V1269h-1ZM1366 0h1V1269h-1ZM1370 0h1V1269h-1ZM1374 0h1V1269h-1ZM1379 0h1V1269h-1ZM1383 0h1V1269h-1ZM1387 0h1V1269h-1ZM1391 0h1V1269h-1ZM1395 0h1V1269h-1ZM1399 0h1V1269h-1ZM1403 0h1V1269h-1ZM1407 0h1V1269h-1ZM1412 0h1V1269h-1ZM1416 0h1V1269h-1ZM1420 0h1V1269h-1ZM1424 0h1V1269h-1ZM1428 0h1V1269h-1ZM1432 0h1V1269h-1ZM1436 0h1V1269h-1ZM1441 0h1V1269h-1ZM1445 0h1V1269h-1ZM1449 0h1V1269h-1ZM1453 0h1V1269h-1ZM1457 0h1V1269h-1ZM1461 0h1V1269h-1ZM1465 0h1V1269h-1ZM1469 0h1V1269h-1ZM1474 0h1V1269h-1ZM1478 0h1V1269h-1ZM1482 0h1V1269h-1ZM1486 0h1V1269h-1ZM1490 0h1V1269h-1ZM1494 0h1V1269h-1ZM1498 0h1V1269h-1ZM1502 0h1V1269h-1ZM1507 0h1V1269h-1ZM1511 0h1V1269h-1ZM1515 0h1V1269h-1ZM1519 0h1V1269h-1ZM1523 0h1V1269h-1ZM1527 0h1V1269h-1ZM1531 0h1V1269h-1ZM1536 0h1V1269h-1ZM1540 0h1V1269h-1ZM1544 0h1V1269h-1ZM1548 0h1V1269h-1ZM1552 0h1V1269h-1ZM1556 0h1V1269h-1ZM1560 0h1V1269h-1ZM1564 0h1V1269h-1ZM1569 0h1V1269h-1ZM1573 0h1V1269h-1ZM1577 0h1V1269h-1ZM1581 0h1V1269h-1ZM1585 0h1V1269h-1ZM1589 0h1V1269h-1ZM1593 0h1V1269h-1ZM1597 0h1V1269h-1ZM1602 0h1V1269h-1ZM1606 0h1V1269h-1ZM1610 0h1V1269h-1ZM1614 0h1V1269h-1ZM1618 0h1V1269h-1ZM1622 0h1V1269h-1ZM1626 0h1V1269h-1ZM1630 0h1V1269h-1ZM1635 0h1V1269h-1ZM1639 0h1V1269h-1ZM1643 0h1V1269h-1ZM1647 0h1V1269h-1ZM1651 0h1V1269h-1ZM1655 0h1V1269h-1ZM1659 0h1V1269h-1ZM1664 0h1V1269h-1ZM1668 0h1V1269h-1ZM1672 0h1V1269h-1ZM1676 0h1V1269h-1ZM1680 0h1V1269h-1ZM1684 0h1V1269h-1ZM1688 0h1V1269h-1ZM1692 0h1V1269h-1ZM1697 0h1V1269h-1ZM1701 0h1V1269h-1ZM1705 0h1V1269h-1ZM1709 0h1V1269h-1ZM1713 0h1V1269h-1ZM1717 0h1V1269h-1ZM1721 0h1V1269h-1ZM1725 0h1V1269h-1ZM1730 0h1V1269h-1ZM1734 0h1V1269h-1ZM1738 0h1V1269h-1ZM1742 0h1V1269h-1ZM1746 0h1V1269h-1ZM1750 0h1V1269h-1ZM1754 0h1V1269h-1ZM1759 0h1V1269h-1ZM1763 0h1V1269h-1ZM1767 0h1V1269h-1ZM1771 0h1V1269h-1ZM1775 0h1V1269h-1ZM1779 0h1V1269h-1ZM1783 0h1V1269h-1ZM1787 0h1V1269h-1ZM1792 0h1V1269h-1ZM1796 0h1V1269h-1ZM1800 0h1V1269h-1ZM1804 0h1V1269h-1ZM1808 0h1V1269h-1ZM1812 0h1V1269h-1ZM1816 0h1V1269h-1ZM1820 0h1V1269h-1ZM1825 0h1V1269h-1ZM1829 0h1V1269h-1ZM1833 0h1V1269h-1ZM1837 0h1V1269h-1ZM1841 0h1V1269h-1ZM1845 0h1V1269h-1ZM1849 0h1V1269h-1ZM1854 0h1V1269h-1ZM1858 0h1V1269h-1ZM1862 0h1V1269h-1ZM1866 0h1V1269h-1ZM1870 0h1V1269h-1ZM1874 0h1V1269h-1ZM1878 0h1V1269h-1ZM1882 0h1V1269h-1ZM1887 0h1V1269h-1ZM1891 0h1V1269h-1ZM1895 0h1V1269h-1ZM1899 0h1V1269h-1ZM1903 0h1V1269h-1ZM1907 0h1V1269h-1ZM1911 0h1V1269h-1ZM1915 0h1V1269h-1ZM1920 0h1V1269h-1ZM1924 0h1V1269h-1ZM1928 0h1V1269h-1ZM1932 0h1V1269h-1ZM1936 0h1V1269h-1ZM1940 0h1V1269h-1ZM1944 0h1V1269h-1ZM1948 0h1V1269h-1ZM1953 0h1V1269h-1ZM1957 0h1V1269h-1ZM1961 0h1V1269h-1ZM1965 0h1V1269h-1ZM1969 0h1V1269h-1ZM1973 0h1V1269h-1ZM1977 0h1V1269h-1ZM1982 0h1V1269h-1ZM1986 0h1V1269h-1ZM1990 0h1V1269h-1ZM1994 0h1V1269h-1ZM1998 0h1V1269h-1ZM2002 0h1V1269h-1ZM2006 0h1V1269h-1ZM2010 0h1V1269h-1ZM2015 0h1V1269h-1ZM2019 0h1V1269h-1ZM2023 0h1V1269h-1ZM2027 0h1V1269h-1ZM2031 0h1V1269h-1ZM2035 0h1V1269h-1ZM2039 0h1V1269h-1ZM2043 0h1V1269h-1ZM2048 0h1V1269h-1ZM2052 0h1V1269h-1ZM2056 0h1V1269h-1ZM2060 0h1V1269h-1ZM2064 0h1V1269h-1ZM2068 0h1V1269h-1ZM2072 0h1V1269h-1ZM2077 0h1V1269h-1ZM2081 0h1V1269h-1ZM2085 0h1V1269h-1ZM2089 0h1V1269h-1ZM2093 0h1V1269h-1ZM2097 0h1V1269h-1ZM2101 0h1V1269h-1ZM2105 0h1V1269h-1ZM2110 0h1V1269h-1ZM2114 0h1V1269h-1ZM2118 0h1V1269h-1ZM2122 0h1V1269h-1ZM2126 0h1V1269h-1ZM2130 0h1V1269h-1ZM2134 0h1V1269h-1ZM2138 0h1V1269h-1ZM2143 0h1V1269h-1ZM2147 0h1V1269h-1ZM2151 0h1V1269h-1ZM2155 0h1V1269h-1ZM2159 0h1V1269h-1ZM2163 0h1V1269h-1ZM2167 0h1V1269h-1ZM2171 0h1V1269h-1ZM2176 0h1V1269h-1ZM2180 0h1V1269h-1ZM2184 0h1V1269h-1ZM2188 0h1V1269h-1ZM2192 0h1V1269h-1ZM2196 0h1V1269h-1ZM2200 0h1V1269h-1ZM2205 0h1V1269h-1ZM2209 0h1V1269h-1ZM2213 0h1V1269h-1ZM2217 0h1V1269h-1ZM2221 0h1V1269h-1ZM2225 0h1V1269h-1ZM2229 0h1V1269h-1ZM2233 0h1V1269h-1ZM2238 0h1V1269h-1ZM2242 0h1V1269h-1ZM2246 0h1V1269h-1ZM2250 0h1V1269h-1ZM2254 0h1V1269h-1ZM2258 0h1V1269h-1ZM2262 0h1V1269h-1ZM2266 0h1V1269h-1ZM2271 0h1V1269h-1ZM2275 0h1V1269h-1ZM2279 0h1V1269h-1ZM2283 0h1V1269h-1ZM2287 0h1V1269h-1ZM2291 0h1V1269h-1ZM2295 0h1V1269h-1ZM2300 0h1V1269h-1ZM2304 0h1V1269h-1ZM2308 0h1V1269h-1ZM2312 0h1V1269h-1ZM2316 0h1V1269h-1ZM2320 0h1V1269h-1ZM2324 0h1V1269h-1ZM2328 0h1V1269h-1ZM2333 0h1V1269h-1ZM2337 0h1V1269h-1ZM2341 0h1V1269h-1ZM2345 0h1V1269h-1ZM2349 0h1V1269h-1ZM2353 0h1V1269h-1ZM2357 0h1V1269h-1ZM2361 0h1V1269h-1ZM2366 0h1V1269h-1ZM2370 0h1V1269h-1ZM2374 0h1V1269h-1ZM2378 0h1V1269h-1ZM2382 0h1V1269h-1ZM2386 0h1V1269h-1ZM2390 0h1V1269h-1ZM2395 0h1V1269h-1ZM2399 0h1V1269h-1ZM2403 0h1V1269h-1ZM2407 0h1V1269h-1Z"/></mask>
<mask id="mh" maskUnits="userSpaceOnUse" x="0" y="0" width="2403" height="1269"><path fill="#fff" d="M0 2v1H2403v-1ZM0 6v1H2403v-1ZM0 11v1H2403v-1ZM0 15v1H2403v-1ZM0 19v1H2403v-1ZM0 23v1H2403v-1ZM0 27v1H2403v-1ZM0 31v1H2403v-1ZM0 35v1H2403v-1ZM0 40v1H2403v-1ZM0 44v1H2403v-1ZM0 48v1H2403v-1ZM0 52v1H2403v-1ZM0 56v1H2403v-1ZM0 60v1H2403v-1ZM0 64v1H2403v-1ZM0 69v1H2403v-1ZM0 73v1H2403v-1ZM0 77v1H2403v-1ZM0 81v1H2403v-1ZM0 85v1H2403v-1ZM0 89v1H2403v-1ZM0 93v1H2403v-1ZM0 97v1H2403v-1ZM0 102v1H2403v-1ZM0 106v1H2403v-1ZM0 110v1H2403v-1ZM0 114v1H2403v-1ZM0 118v1H2403v-1ZM0 122v1H2403v-1ZM0 126v1H2403v-1ZM0 131v1H2403v-1ZM0 135v1H2403v-1ZM0 139v1H2403v-1ZM0 143v1H2403v-1ZM0 147v1H2403v-1ZM0 151v1H2403v-1ZM0 155v1H2403v-1ZM0 160v1H2403v-1ZM0 164v1H2403v-1ZM0 168v1H2403v-1ZM0 172v1H2403v-1ZM0 176v1H2403v-1ZM0 180v1H2403v-1ZM0 184v1H2403v-1ZM0 188v1H2403v-1ZM0 193v1H2403v-1ZM0 197v1H2403v-1ZM0 201v1H2403v-1ZM0 205v1H2403v-1ZM0 209v1H2403v-1ZM0 213v1H2403v-1ZM0 217v1H2403v-1ZM0 222v1H2403v-1ZM0 226v1H2403v-1ZM0 230v1H2403v-1ZM0 234v1H2403v-1ZM0 238v1H2403v-1ZM0 242v1H2403v-1ZM0 246v1H2403v-1ZM0 251v1H2403v-1ZM0 255v1H2403v-1ZM0 259v1H2403v-1ZM0 263v1H2403v-1ZM0 267v1H2403v-1ZM0 271v1H2403v-1ZM0 275v1H2403v-1ZM0 280v1H2403v-1ZM0 284v1H2403v-1ZM0 288v1H2403v-1ZM0 292v1H2403v-1ZM0 296v1H2403v-1ZM0 300v1H2403v-1ZM0 304v1H2403v-1ZM0 308v1H2403v-1ZM0 313v1H2403v-1ZM0 317v1H2403v-1ZM0 321v1H2403v-1ZM0 325v1H2403v-1ZM0 329v1H2403v-1ZM0 333v1H2403v-1ZM0 337v1H2403v-1ZM0 342v1H2403v-1ZM0 346v1H2403v-1ZM0 350v1H2403v-1ZM0 354v1H2403v-1ZM0 358v1H2403v-1ZM0 362v1H2403v-1ZM0 366v1H2403v-1ZM0 371v1H2403v-1ZM0 375v1H2403v-1ZM0 379v1H2403v-1ZM0 383v1H2403v-1ZM0 387v1H2403v-1ZM0 391v1H2403v-1ZM0 395v1H2403v-1ZM0 399v1H2403v-1ZM0 404v1H2403v-1ZM0 408v1H2403v-1ZM0 412v1H2403v-1ZM0 416v1H2403v-1ZM0 420v1H2403v-1ZM0 424v1H2403v-1ZM0 428v1H2403v-1ZM0 433v1H2403v-1ZM0 437v1H2403v-1ZM0 441v1H2403v-1ZM0 445v1H2403v-1ZM0 449v1H2403v-1ZM0 453v1H2403v-1ZM0 457v1H2403v-1ZM0 462v1H2403v-1ZM0 466v1H2403v-1ZM0 470v1H2403v-1ZM0 474v1H2403v-1ZM0 478v1H2403v-1ZM0 482v1H2403v-1ZM0 486v1H2403v-1ZM0 491v1H2403v-1ZM0 495v1H2403v-1ZM0 499v1H2403v-1ZM0 503v1H2403v-1ZM0 507v1H2403v-1ZM0 511v1H2403v-1ZM0 515v1H2403v-1ZM0 519v1H2403v-1ZM0 524v1H2403v-1ZM0 528v1H2403v-1ZM0 532v1H2403v-1ZM0 536v1H2403v-1ZM0 540v1H2403v-1ZM0 544v1H2403v-1ZM0 548v1H2403v-1ZM0 553v1H2403v-1ZM0 557v1H2403v-1ZM0 561v1H2403v-1ZM0 565v1H2403v-1ZM0 569v1H2403v-1ZM0 573v1H2403v-1ZM0 577v1H2403v-1ZM0 582v1H2403v-1ZM0 586v1H2403v-1ZM0 590v1H2403v-1ZM0 594v1H2403v-1ZM0 598v1H2403v-1ZM0 602v1H2403v-1ZM0 606v1H2403v-1ZM0 610v1H2403v-1ZM0 615v1H2403v-1ZM0 619v1H2403v-1ZM0 623v1H2403v-1ZM0 627v1H2403v-1ZM0 631v1H2403v-1ZM0 635v1H2403v-1ZM0 639v1H2403v-1ZM0 644v1H2403v-1ZM0 648v1H2403v-1ZM0 652v1H2403v-1ZM0 656v1H2403v-1ZM0 660v1H2403v-1ZM0 664v1H2403v-1ZM0 668v1H2403v-1ZM0 673v1H2403v-1ZM0 677v1H2403v-1ZM0 681v1H2403v-1ZM0 685v1H2403v-1ZM0 689v1H2403v-1ZM0 693v1H2403v-1ZM0 697v1H2403v-1ZM0 702v1H2403v-1ZM0 706v1H2403v-1ZM0 710v1H2403v-1ZM0 714v1H2403v-1ZM0 718v1H2403v-1ZM0 722v1H2403v-1ZM0 726v1H2403v-1ZM0 730v1H2403v-1ZM0 735v1H2403v-1ZM0 739v1H2403v-1ZM0 743v1H2403v-1ZM0 747v1H2403v-1ZM0 751v1H2403v-1ZM0 755v1H2403v-1ZM0 759v1H2403v-1ZM0 764v1H2403v-1ZM0 768v1H2403v-1ZM0 772v1H2403v-1ZM0 776v1H2403v-1ZM0 780v1H2403v-1ZM0 784v1H2403v-1ZM0 788v1H2403v-1ZM0 793v1H2403v-1ZM0 797v1H2403v-1ZM0 801v1H2403v-1ZM0 805v1H2403v-1ZM0 809v1H2403v-1ZM0 813v1H2403v-1ZM0 817v1H2403v-1ZM0 821v1H2403v-1ZM0 826v1H2403v-1ZM0 830v1H2403v-1ZM0 834v1H2403v-1ZM0 838v1H2403v-1ZM0 842v1H2403v-1ZM0 846v1H2403v-1ZM0 850v1H2403v-1ZM0 855v1H2403v-1ZM0 859v1H2403v-1ZM0 863v1H2403v-1ZM0 867v1H2403v-1ZM0 871v1H2403v-1ZM0 875v1H2403v-1ZM0 879v1H2403v-1ZM0 884v1H2403v-1ZM0 888v1H2403v-1ZM0 892v1H2403v-1ZM0 896v1H2403v-1ZM0 900v1H2403v-1ZM0 904v1H2403v-1ZM0 908v1H2403v-1ZM0 912v1H2403v-1ZM0 917v1H2403v-1ZM0 921v1H2403v-1ZM0 925v1H2403v-1ZM0 929v1H2403v-1ZM0 933v1H2403v-1ZM0 937v1H2403v-1ZM0 941v1H2403v-1ZM0 946v1H2403v-1ZM0 950v1H2403v-1ZM0 954v1H2403v-1ZM0 958v1H2403v-1ZM0 962v1H2403v-1ZM0 966v1H2403v-1ZM0 970v1H2403v-1ZM0 975v1H2403v-1ZM0 979v1H2403v-1ZM0 983v1H2403v-1ZM0 987v1H2403v-1ZM0 991v1H2403v-1ZM0 995v1H2403v-1ZM0 999v1H2403v-1ZM0 1004v1H2403v-1ZM0 1008v1H2403v-1ZM0 1012v1H2403v-1ZM0 1016v1H2403v-1ZM0 1020v1H2403v-1ZM0 1024v1H2403v-1ZM0 1028v1H2403v-1ZM0 1032v1H2403v-1ZM0 1037v1H2403v-1ZM0 1041v1H2403v-1ZM0 1045v1H2403v-1ZM0 1049v1H2403v-1ZM0 1053v1H2403v-1ZM0 1057v1H2403v-1ZM0 1061v1H2403v-1ZM0 1066v1H2403v-1ZM0 1070v1H2403v-1ZM0 1074v1H2403v-1ZM0 1078v1H2403v-1ZM0 1082v1H2403v-1ZM0 1086v1H2403v-1ZM0 1090v1H2403v-1ZM0 1095v1H2403v-1ZM0 1099v1H2403v-1ZM0 1103v1H2403v-1ZM0 1107v1H2403v-1ZM0 1111v1H2403v-1ZM0 1115v1H2403v-1ZM0 1119v1H2403v-1ZM0 1123v1H2403v-1ZM0 1128v1H2403v-1ZM0 1132v1H2403v-1ZM0 1136v1H2403v-1ZM0 1140v1H2403v-1ZM0 1144v1H2403v-1ZM0 1148v1H2403v-1ZM0 1152v1H2403v-1ZM0 1157v1H2403v-1ZM0 1161v1H2403v-1ZM0 1165v1H2403v-1ZM0 1169v1H2403v-1ZM0 1173v1H2403v-1ZM0 1177v1H2403v-1ZM0 1181v1H2403v-1ZM0 1186v1H2403v-1ZM0 1190v1H2403v-1ZM0 1194v1H2403v-1ZM0 1198v1H2403v-1ZM0 1202v1H2403v-1ZM0 1206v1H2403v-1ZM0 1210v1H2403v-1ZM0 1215v1H2403v-1ZM0 1219v1H2403v-1ZM0 1223v1H2403v-1ZM0 1227v1H2403v-1ZM0 1231v1H2403v-1ZM0 1235v1H2403v-1ZM0 1239v1H2403v-1ZM0 1243v1H2403v-1ZM0 1248v1H2403v-1ZM0 1252v1H2403v-1ZM0 1256v1H2403v-1ZM0 1260v1H2403v-1ZM0 1264v1H2403v-1ZM0 1268v1H2403v-1ZM0 1272v1H2403v-1Z"/></mask>
<filter id="px" x="-5%" y="-5%" width="110%" height="110%" color-interpolation-filters="sRGB"><feColorMatrix in="SourceGraphic" type="matrix" values="0 0 0 0 0 0 0 0 0 0 0 0 0 0 0 -1 0 -1 1 0"/><feComponentTransfer result="s"><feFuncA type="discrete" tableValues="0 1"/></feComponentTransfer><feColorMatrix in="SourceGraphic" type="matrix" values="0 0 0 0 0 0 0 0 0 0 0 0 0 0 0 1 0 0 0 0"/><feComponentTransfer result="gx"><feFuncA type="discrete" tableValues="0 1"/></feComponentTransfer><feColorMatrix in="SourceGraphic" type="matrix" values="0 0 0 0 0 0 0 0 0 0 0 0 0 0 0 0 0 1 0 0"/><feComponentTransfer result="gy"><feFuncA type="discrete" tableValues="0 1"/></feComponentTransfer><feOffset in="s" dx="-1" result="s1"/><feMerge result="a"><feMergeNode in="s"/><feMergeNode in="s1"/></feMerge><feOffset in="a" dx="1" result="a1"/><feOffset in="a" dx="-1" result="a2"/><feMerge result="b"><feMergeNode in="a"/><feMergeNode in="a1"/><feMergeNode in="a2"/></feMerge><feOffset in="b" dx="1"/><feComposite in2="gx" operator="in" result="b5"/><feMerge result="c"><feMergeNode in="b"/><feMergeNode in="b5"/></feMerge><feOffset in="c" dy="-1" result="c1"/><feMerge result="d"><feMergeNode in="c"/><feMergeNode in="c1"/></feMerge><feOffset in="d" dy="1" result="d1"/><feOffset in="d" dy="-1" result="d2"/><feMerge result="e"><feMergeNode in="d"/><feMergeNode in="d1"/><feMergeNode in="d2"/></feMerge><feOffset in="e" dy="1"/><feComposite in2="gy" operator="in" result="e5"/><feMerge><feMergeNode in="e"/><feMergeNode in="e5"/></feMerge></filter><filter id="er" x="-5%" y="-5%" width="110%" height="110%"><feMorphology operator="erode" radius="1"/></filter>
<clipPath id="c2"><path d="M-999 -999H4999V-7.05H-999ZM20.74 -7.05H30.04V99H20.74ZM44.7 -7.05H4999V99H44.7Z"/></clipPath>
<clipPath id="c6"><path d="M-999 -999H4999V-7.05H-999ZM20.74 -7.05H30.04V99H20.74ZM44.7 -7.05H4999V99H44.7Z"/></clipPath>
<clipPath id="c7"><path d="M-999 -999H4999V-7.05H-999ZM19.71 -7.05H28.66V99H19.71ZM42.63 -7.05H4999V99H42.63Z"/></clipPath>
<clipPath id="c11"><path d="M-999 -999H4999V-7.05H-999ZM19.71 -7.05H28.66V99H19.71ZM42.63 -7.05H4999V99H42.63Z"/></clipPath>
<clipPath id="c15"><path d="M-999 -999H4999V-7.05H-999ZM20.74 -7.05H30.04V99H20.74ZM44.7 -7.05H4999V99H44.7Z"/></clipPath>
<clipPath id="c16"><path d="M-999 -999H4999V-7.05H-999ZM19.71 -7.05H28.66V99H19.71ZM42.63 -7.05H4999V99H42.63Z"/></clipPath>
</defs>
<g>
<g filter="url(#px)"><path fill="none" d="M96 79H138V166H96Z"/><path fill="#f00" d="M104 79h1V166h-1ZM133 79h1V166h-1Z"/><path fill="#00f" d="M96 99v1H138v-1ZM96 128v1H138v-1ZM96 157v1H138v-1Z"/><g mask="url(#mv)"><g mask="url(#mh)"><text class="s" font-size="74" transform="translate(96.26 141)" stroke-width="1.8"><tspan textLength="41.56" lengthAdjust="spacingAndGlyphs">2</tspan></text></g></g></g>
<g filter="url(#px)"><path fill="none" d="M96 542H125V629H96Z"/><path fill="#f00" d="M104 542h1V629h-1Z"/><path fill="#00f" d="M96 550v1H125v-1ZM96 579v1H125v-1ZM96 612v1H125v-1Z"/><g mask="url(#mv)"><g mask="url(#mh)"><text class="s" font-size="74" transform="translate(91.86 604)" clip-path="url(#c2)" stroke-width="1.8"><tspan textLength="47.67" lengthAdjust="spacingAndGlyphs">1</tspan></text></g></g></g>
<g filter="url(#px)"><path fill="none" d="M96 1006H138V1093H96Z"/><path fill="#f00" d="M104 1006h1V1093h-1ZM133 1006h1V1093h-1Z"/><path fill="#00f" d="M96 1034v1H138v-1ZM96 1063v1H138v-1ZM96 1092v1H138v-1Z"/><g mask="url(#mv)"><g mask="url(#mh)"><text class="s" font-size="74" transform="translate(97.15 1068)" stroke-width="1.8"><tspan textLength="39.6" lengthAdjust="spacingAndGlyphs">0</tspan></text></g></g></g>
<g filter="url(#px)"><path fill="none" d="M179 1105H220V1192H179Z"/><path fill="#f00" d="M199 1105h1V1192h-1Z"/><path fill="#00f" d="M179 1125v1H220v-1ZM179 1154v1H220v-1ZM179 1183v1H220v-1Z"/><g mask="url(#mv)"><g mask="url(#mh)"><text class="s" font-size="74" transform="translate(180.24 1167)" stroke-width="1.8"><tspan textLength="38.44" lengthAdjust="spacingAndGlyphs">0</tspan></text></g></g></g>
<g filter="url(#px)"><path fill="none" d="M464 1105H546V1192H464Z"/><path fill="#f00" d="M484 1105h1V1192h-1ZM517 1105h1V1192h-1Z"/><path fill="#00f" d="M464 1125v1H546v-1ZM464 1154v1H546v-1ZM464 1183v1H546v-1Z"/><g mask="url(#mv)"><g mask="url(#mh)"><text class="s" font-size="74" transform="translate(465.22 1167)" stroke-width="1.8"><tspan textLength="38.64" lengthAdjust="spacingAndGlyphs">5</tspan><tspan textLength="38.44" lengthAdjust="spacingAndGlyphs" dx="2.38">0</tspan></text></g></g></g>
<g filter="url(#px)"><path fill="none" d="M757 1101H877V1188H757Z"/><path fill="#f00" d="M773 1101h1V1188h-1ZM802 1101h1V1188h-1ZM835 1101h1V1188h-1ZM868 1101h1V1188h-1Z"/><path fill="#00f" d="M757 1125v1H877v-1ZM757 1154v1H877v-1ZM757 1183v1H877v-1Z"/><g mask="url(#mv)"><g mask="url(#mh)"><text class="s" font-size="74" transform="translate(752.86 1163)" clip-path="url(#c6)" stroke-width="1.8"><tspan textLength="47.67" lengthAdjust="spacingAndGlyphs">1</tspan><tspan textLength="38.44" lengthAdjust="spacingAndGlyphs" dx="-5.29">0</tspan><tspan textLength="38.44" lengthAdjust="spacingAndGlyphs" dx="3.56">0</tspan></text></g></g></g>
<g filter="url(#px)"><path fill="none" d="M1059 1101H1178V1188H1059Z"/><path fill="#f00" d="M1091 1101h1V1188h-1ZM1120 1101h1V1188h-1ZM1153 1101h1V1188h-1Z"/><path fill="#00f" d="M1059 1125v1H1178v-1ZM1059 1154v1H1178v-1ZM1059 1183v1H1178v-1Z"/><g mask="url(#mv)"><g mask="url(#mh)"><text class="s" font-size="74" transform="translate(1055.24 1163)" clip-path="url(#c7)" stroke-width="1.8"><tspan textLength="45.4" lengthAdjust="spacingAndGlyphs">1</tspan><tspan textLength="38.64" lengthAdjust="spacingAndGlyphs" dx="-3.43">5</tspan><tspan textLength="38.44" lengthAdjust="spacingAndGlyphs" dx="2.38">0</tspan></text></g></g></g>
<g filter="url(#px)"><path fill="none" d="M39 431H125V484H39Z"/><path fill="#f00" d="M71 431h1V484h-1ZM104 431h1V484h-1Z"/><path fill="#00f" d="M39 459v1H125v-1Z"/><g mask="url(#mv)"><g mask="url(#mh)"><text class="s" font-size="74" transform="translate(100 480.17) rotate(-90)" stroke-width="1.8"><tspan textLength="45.31" lengthAdjust="spacingAndGlyphs">A</tspan></text></g></g></g>
<g filter="url(#px)"><path fill="none" d="M51 203H138V426H51Z"/><path fill="#f00" d="M71 203h1V426h-1ZM104 203h1V426h-1ZM133 203h1V426h-1Z"/><path fill="#00f" d="M51 219v1H138v-1ZM51 248v1H138v-1ZM51 277v1H138v-1ZM51 310v1H138v-1ZM51 339v1H138v-1ZM51 368v1H138v-1ZM51 401v1H138v-1Z"/><g mask="url(#mv)"><g mask="url(#mh)"><text class="s" font-size="74" transform="translate(113 425.63) rotate(-90)" stroke-width="1.8"><tspan textLength="40.34" lengthAdjust="spacingAndGlyphs">2</tspan><tspan textLength="39.05" lengthAdjust="spacingAndGlyphs" dx="1.3">8</tspan><tspan textLength="39.6" lengthAdjust="spacingAndGlyphs" dx="2.09">0</tspan><tspan textLength="43.44" lengthAdjust="spacingAndGlyphs" dx="-0.03">n</tspan><tspan textLength="59.5" lengthAdjust="spacingAndGlyphs" dx="-1.99">m</tspan></text></g></g></g>
<g filter="url(#px)"><path fill="none" d="M1277 79H1319V166H1277Z"/><path fill="#f00" d="M1281 79h1V166h-1ZM1314 79h1V166h-1Z"/><path fill="#00f" d="M1277 99v1H1319v-1ZM1277 128v1H1319v-1ZM1277 157v1H1319v-1Z"/><g mask="url(#mv)"><g mask="url(#mh)"><text class="s" font-size="74" transform="translate(1278.37 141)" stroke-width="1.8"><tspan textLength="40.34" lengthAdjust="spacingAndGlyphs">2</tspan></text></g></g></g>
<g filter="url(#px)"><path fill="none" d="M1277 542H1306V629H1277Z"/><path fill="#f00" d="M1281 542h1V629h-1Z"/><path fill="#00f" d="M1277 550v1H1306v-1ZM1277 579v1H1306v-1ZM1277 612v1H1306v-1Z"/><g mask="url(#mv)"><g mask="url(#mh)"><text class="s" font-size="74" transform="translate(1274.24 604)" clip-path="url(#c11)" stroke-width="1.8"><tspan textLength="45.4" lengthAdjust="spacingAndGlyphs">1</tspan></text></g></g></g>
<g filter="url(#px)"><path fill="none" d="M1277 1006H1319V1093H1277Z"/><path fill="#f00" d="M1281 1006h1V1093h-1ZM1314 1006h1V1093h-1Z"/><path fill="#00f" d="M1277 1034v1H1319v-1ZM1277 1063v1H1319v-1ZM1277 1092v1H1319v-1Z"/><g mask="url(#mv)"><g mask="url(#mh)"><text class="s" font-size="74" transform="translate(1279.24 1068)" stroke-width="1.8"><tspan textLength="38.44" lengthAdjust="spacingAndGlyphs">0</tspan></text></g></g></g>
<g filter="url(#px)"><path fill="none" d="M1360 1105H1401V1192H1360Z"/><path fill="#f00" d="M1376 1105h1V1192h-1Z"/><path fill="#00f" d="M1360 1125v1H1401v-1ZM1360 1154v1H1401v-1ZM1360 1183v1H1401v-1Z"/><g mask="url(#mv)"><g mask="url(#mh)"><text class="s" font-size="74" transform="translate(1361.24 1167)" stroke-width="1.8"><tspan textLength="38.44" lengthAdjust="spacingAndGlyphs">0</tspan></text></g></g></g>
<g filter="url(#px)"><path fill="none" d="M1645 1105H1728V1192H1645Z"/><path fill="#f00" d="M1661 1105h1V1192h-1ZM1694 1105h1V1192h-1ZM1727 1105h1V1192h-1Z"/><path fill="#00f" d="M1645 1125v1H1728v-1ZM1645 1154v1H1728v-1ZM1645 1183v1H1728v-1Z"/><g mask="url(#mv)"><g mask="url(#mh)"><text class="s" font-size="74" transform="translate(1646.22 1167)" stroke-width="1.8"><tspan textLength="38.64" lengthAdjust="spacingAndGlyphs">5</tspan><tspan textLength="38.44" lengthAdjust="spacingAndGlyphs" dx="2.38">0</tspan></text></g></g></g>
<g filter="url(#px)"><path fill="none" d="M1938 1101H2058V1188H1938Z"/><path fill="#f00" d="M1950 1101h1V1188h-1ZM1979 1101h1V1188h-1ZM2012 1101h1V1188h-1ZM2045 1101h1V1188h-1Z"/><path fill="#00f" d="M1938 1125v1H2058v-1ZM1938 1154v1H2058v-1ZM1938 1183v1H2058v-1Z"/><g mask="url(#mv)"><g mask="url(#mh)"><text class="s" font-size="74" transform="translate(1933.86 1163)" clip-path="url(#c15)" stroke-width="1.8"><tspan textLength="47.67" lengthAdjust="spacingAndGlyphs">1</tspan><tspan textLength="38.44" lengthAdjust="spacingAndGlyphs" dx="-4.29">0</tspan><tspan textLength="38.44" lengthAdjust="spacingAndGlyphs" dx="2.56">0</tspan></text></g></g></g>
<g filter="url(#px)"><path fill="none" d="M2240 1101H2359V1188H2240Z"/><path fill="#f00" d="M2268 1101h1V1188h-1ZM2297 1101h1V1188h-1ZM2330 1101h1V1188h-1Z"/><path fill="#00f" d="M2240 1125v1H2359v-1ZM2240 1154v1H2359v-1ZM2240 1183v1H2359v-1Z"/><g mask="url(#mv)"><g mask="url(#mh)"><text class="s" font-size="74" transform="translate(2236.24 1163)" clip-path="url(#c16)" stroke-width="1.8"><tspan textLength="45.4" lengthAdjust="spacingAndGlyphs">1</tspan><tspan textLength="38.64" lengthAdjust="spacingAndGlyphs" dx="-3.43">5</tspan><tspan textLength="38.44" lengthAdjust="spacingAndGlyphs" dx="2.38">0</tspan></text></g></g></g>
<g filter="url(#px)"><path fill="none" d="M1220 431H1306V484H1220Z"/><path fill="#f00" d="M1248 431h1V484h-1ZM1281 431h1V484h-1Z"/><path fill="#00f" d="M1220 459v1H1306v-1Z"/><g mask="url(#mv)"><g mask="url(#mh)"><text class="s" font-size="74" transform="translate(1282 480.17) rotate(-90)" stroke-width="1.8"><tspan textLength="45.31" lengthAdjust="spacingAndGlyphs">A</tspan></text></g></g></g>
<g filter="url(#px)"><path fill="none" d="M1232 203H1319V426H1232Z"/><path fill="#f00" d="M1248 203h1V426h-1ZM1281 203h1V426h-1ZM1314 203h1V426h-1Z"/><path fill="#00f" d="M1232 219v1H1319v-1ZM1232 248v1H1319v-1ZM1232 277v1H1319v-1ZM1232 310v1H1319v-1ZM1232 339v1H1319v-1ZM1232 368v1H1319v-1ZM1232 401v1H1319v-1Z"/><g mask="url(#mv)"><g mask="url(#mh)"><text class="s" font-size="74" transform="translate(1294 425.63) rotate(-90)" stroke-width="1.8"><tspan textLength="40.34" lengthAdjust="spacingAndGlyphs">2</tspan><tspan textLength="39.05" lengthAdjust="spacingAndGlyphs" dx="1.3">8</tspan><tspan textLength="39.6" lengthAdjust="spacingAndGlyphs" dx="2.09">0</tspan><tspan textLength="43.44" lengthAdjust="spacingAndGlyphs" dx="-0.03">n</tspan><tspan textLength="59.5" lengthAdjust="spacingAndGlyphs" dx="-1.99">m</tspan></text></g></g></g>
<g filter="url(#px)"><path fill="none" d="M815 1171H1166V1258H815Z"/><path fill="#f00" d="M835 1171h1V1258h-1ZM868 1171h1V1258h-1ZM897 1171h1V1258h-1ZM930 1171h1V1258h-1ZM963 1171h1V1258h-1ZM992 1171h1V1258h-1ZM1025 1171h1V1258h-1ZM1058 1171h1V1258h-1ZM1091 1171h1V1258h-1ZM1120 1171h1V1258h-1ZM1153 1171h1V1258h-1Z"/><path fill="#00f" d="M815 1183v1H1166v-1ZM815 1212v1H1166v-1ZM815 1245v1H1166v-1Z"/><g mask="url(#mv)"><g mask="url(#mh)"><text class="s" font-size="74" transform="translate(817.37 1233)" stroke-width="1.8"><tspan textLength="44.33" lengthAdjust="spacingAndGlyphs">T</tspan><tspan textLength="20.31" lengthAdjust="spacingAndGlyphs" dx="1.13">i</tspan><tspan textLength="59.5" lengthAdjust="spacingAndGlyphs" dx="-2.96">m</tspan><tspan textLength="39.05" lengthAdjust="spacingAndGlyphs" dx="0.34">e</tspan><tspan> </tspan><tspan textLength="26.64" lengthAdjust="spacingAndGlyphs" dx="0.36">(</tspan><tspan textLength="58.31" lengthAdjust="spacingAndGlyphs" dx="-1.37">m</tspan><tspan textLength="22.85" lengthAdjust="spacingAndGlyphs" dx="-3.53">i</tspan><tspan textLength="43.44" lengthAdjust="spacingAndGlyphs" dx="-4.18">n</tspan><tspan textLength="26.64" lengthAdjust="spacingAndGlyphs" dx="-1.77">)</tspan></text></g></g></g>
<g filter="url(#px)"><path fill="none" d="M1988 1171H2339V1258H1988Z"/><path fill="#f00" d="M2012 1171h1V1258h-1ZM2045 1171h1V1258h-1ZM2074 1171h1V1258h-1ZM2107 1171h1V1258h-1ZM2140 1171h1V1258h-1ZM2173 1171h1V1258h-1ZM2202 1171h1V1258h-1ZM2235 1171h1V1258h-1ZM2268 1171h1V1258h-1ZM2297 1171h1V1258h-1ZM2330 1171h1V1258h-1Z"/><path fill="#00f" d="M1988 1183v1H2339v-1ZM1988 1212v1H2339v-1ZM1988 1245v1H2339v-1Z"/><g mask="url(#mv)"><g mask="url(#mh)"><text class="s" font-size="74" transform="translate(1990.37 1233)" stroke-width="1.8"><tspan textLength="44.33" lengthAdjust="spacingAndGlyphs">T</tspan><tspan textLength="22.85" lengthAdjust="spacingAndGlyphs" dx="-0.64">i</tspan><tspan textLength="59.5" lengthAdjust="spacingAndGlyphs" dx="-3.73">m</tspan><tspan textLength="39.05" lengthAdjust="spacingAndGlyphs" dx="0.34">e</tspan><tspan> </tspan><tspan textLength="25.37" lengthAdjust="spacingAndGlyphs" dx="0.6">(</tspan><tspan textLength="58.31" lengthAdjust="spacingAndGlyphs" dx="-0.34">m</tspan><tspan textLength="22.85" lengthAdjust="spacingAndGlyphs" dx="-3.53">i</tspan><tspan textLength="43.44" lengthAdjust="spacingAndGlyphs" dx="-4.18">n</tspan><tspan textLength="26.64" lengthAdjust="spacingAndGlyphs" dx="-1.77">)</tspan></text></g></g></g>
<g filter="url(#px)"><path fill="none" d="M1096 29H1191V149H1096Z"/><path fill="#f00" d="M1120 29h1V149h-1ZM1153 29h1V149h-1ZM1186 29h1V149h-1Z"/><path fill="#00f" d="M1096 37v1H1191v-1ZM1096 66v1H1191v-1ZM1096 99v1H1191v-1ZM1096 128v1H1191v-1Z"/><g mask="url(#mv)"><g mask="url(#mh)"><g filter="url(#er)"><text class="s" font-size="112.1" transform="translate(1095.52 120)" stroke-width="1.3"><tspan textLength="58.6" lengthAdjust="spacingAndGlyphs">a</tspan><tspan textLength="31.72" lengthAdjust="spacingAndGlyphs" dx="7.16" font-size="108.8" dy="-2.4">)</tspan></text></g></g></g></g>
<g filter="url(#px)"><path fill="none" d="M2273 29H2364V149H2273Z"/><path fill="#f00" d="M2297 29h1V149h-1ZM2330 29h1V149h-1ZM2363 29h1V149h-1Z"/><path fill="#00f" d="M2273 37v1H2364v-1ZM2273 66v1H2364v-1ZM2273 99v1H2364v-1ZM2273 128v1H2364v-1Z"/><g mask="url(#mv)"><g mask="url(#mh)"><g filter="url(#er)"><text class="s" font-size="112.1" transform="translate(2269.92 120)" stroke-width="1.3"><tspan textLength="60.56" lengthAdjust="spacingAndGlyphs">b</tspan><tspan textLength="30.45" lengthAdjust="spacingAndGlyphs" dx="3.83" font-size="108.8" dy="-2.4">)</tspan></text></g></g></g></g>
<g filter="url(#px)"><path fill="none" d="M732 526H823V691H732Z"/><path fill="#f00" d="M740 526h1V691h-1ZM773 526h1V691h-1ZM802 526h1V691h-1Z"/><path fill="#00f" d="M732 550v1H823v-1ZM732 579v1H823v-1ZM732 612v1H823v-1ZM732 641v1H823v-1ZM732 670v1H823v-1Z"/><g mask="url(#mv)"><g mask="url(#mh)"><text class="s" font-size="79.3" transform="translate(798 690.95) rotate(-90)" stroke-width="1.8"><tspan textLength="57.09" lengthAdjust="spacingAndGlyphs">C</tspan><tspan textLength="45.73" lengthAdjust="spacingAndGlyphs" dx="1.37">d</tspan><tspan textLength="22.88" lengthAdjust="spacingAndGlyphs" dx="-2.47">t</tspan><tspan textLength="33.33" lengthAdjust="spacingAndGlyphs" dx="3.19" font-size="77">y</tspan></text></g></g></g>
<g filter="url(#px)"><path fill="none" d="M741 435H831V497H741Z"/><path fill="#f00" d="M773 435h1V497h-1ZM802 435h1V497h-1Z"/><path fill="#00f" d="M741 459v1H831v-1ZM741 488v1H831v-1Z"/><g mask="url(#mv)"><g mask="url(#mh)"><text class="s" font-size="81.5" transform="translate(807 493.41) rotate(-90)" stroke-width="1.8"><tspan textLength="54.78" lengthAdjust="spacingAndGlyphs">V</tspan></text></g></g></g>
<g filter="url(#px)"><path fill="none" d="M1909 559H2000V741H1909Z"/><path fill="#f00" d="M1917 559h1V741h-1ZM1950 559h1V741h-1ZM1979 559h1V741h-1Z"/><path fill="#00f" d="M1909 579v1H2000v-1ZM1909 612v1H2000v-1ZM1909 641v1H2000v-1ZM1909 670v1H2000v-1ZM1909 699v1H2000v-1ZM1909 732v1H2000v-1Z"/><g mask="url(#mv)"><g mask="url(#mh)"><text class="s" font-size="79.3" transform="translate(1975 740.95) rotate(-90)" stroke-width="1.8"><tspan textLength="57.09" lengthAdjust="spacingAndGlyphs">C</tspan><tspan textLength="45.73" lengthAdjust="spacingAndGlyphs" dx="1.37">d</tspan><tspan textLength="21.79" lengthAdjust="spacingAndGlyphs" dx="-1.41">t</tspan><tspan textLength="49.81" lengthAdjust="spacingAndGlyphs" dx="3.38" font-size="77">w</tspan></text></g></g></g>
<g filter="url(#px)"><path fill="none" d="M1922 468H2013V530H1922Z"/><path fill="#f00" d="M1950 468h1V530h-1ZM1979 468h1V530h-1ZM2012 468h1V530h-1Z"/><path fill="#00f" d="M1922 488v1H2013v-1ZM1922 521v1H2013v-1Z"/><g mask="url(#mv)"><g mask="url(#mh)"><text class="s" font-size="81.5" transform="translate(1988 526.41) rotate(-90)" stroke-width="1.8"><tspan textLength="54.78" lengthAdjust="spacingAndGlyphs">V</tspan></text></g></g></g>
<g filter="url(#px)"><path fill="none" d="M443 836H476V915H443Z"/><path fill="#f00" d="M455 836h1V915h-1Z"/><path fill="#00f" d="M443 852v1H476v-1ZM443 881v1H476v-1ZM443 914v1H476v-1Z"/><g mask="url(#mv)"><g mask="url(#mh)"><text class="r" font-size="68.1" transform="translate(443.67 890)" stroke-width="1.2"><tspan textLength="31.72" lengthAdjust="spacingAndGlyphs">I</tspan></text></g></g></g>
<g filter="url(#px)"><path fill="none" d="M435 695H493V774H435Z"/><path fill="#f00" d="M455 695h1V774h-1ZM484 695h1V774h-1Z"/><path fill="#00f" d="M435 699v1H493v-1ZM435 732v1H493v-1ZM435 761v1H493v-1Z"/><g mask="url(#mv)"><g mask="url(#mh)"><text class="r" font-size="68.1" transform="translate(435.67 749)" stroke-width="1.2"><tspan textLength="31.72" lengthAdjust="spacingAndGlyphs">I</tspan><tspan textLength="31.72" lengthAdjust="spacingAndGlyphs" dx="-6.72">I</tspan></text></g></g></g>
<g filter="url(#px)"><path fill="none" d="M447 464H530V542H447Z"/><path fill="#f00" d="M455 464h1V542h-1ZM484 464h1V542h-1ZM517 464h1V542h-1Z"/><path fill="#00f" d="M447 488v1H530v-1ZM447 521v1H530v-1Z"/><g mask="url(#mv)"><g mask="url(#mh)"><text class="r" font-size="68.1" transform="translate(447.67 517)" stroke-width="1.2"><tspan textLength="31.72" lengthAdjust="spacingAndGlyphs">I</tspan><tspan textLength="31.72" lengthAdjust="spacingAndGlyphs" dx="-6.72">I</tspan><tspan textLength="31.72" lengthAdjust="spacingAndGlyphs" dx="-6.72">I</tspan></text></g></g></g>
<g filter="url(#px)"><path fill="none" d="M555 46H633V124H555Z"/><path fill="#f00" d="M579 46h1V124h-1ZM612 46h1V124h-1Z"/><path fill="#00f" d="M555 66v1H633v-1ZM555 99v1H633v-1Z"/><g mask="url(#mv)"><g mask="url(#mh)"><text class="r" font-size="68.1" transform="translate(555.67 100)" stroke-width="1.2"><tspan textLength="31.72" lengthAdjust="spacingAndGlyphs">I</tspan><tspan textLength="46.43" lengthAdjust="spacingAndGlyphs" dx="-4.02" stroke-width="1.8">V</tspan></text></g></g></g>
<g filter="url(#px)"><path fill="none" d="M869 646H947V724H869Z"/><path fill="#f00" d="M897 646h1V724h-1ZM930 646h1V724h-1Z"/><path fill="#00f" d="M869 670v1H947v-1ZM869 699v1H947v-1Z"/><g mask="url(#mv)"><g mask="url(#mh)"><text class="r" font-size="68.1" transform="translate(872.36 700)" stroke-width="1.2"><tspan textLength="46.43" lengthAdjust="spacingAndGlyphs" stroke-width="1.8">V</tspan><tspan textLength="31.72" lengthAdjust="spacingAndGlyphs" dx="-4.12">I</tspan></text></g></g></g>
<g filter="url(#px)"><path fill="none" d="M1612 592H1645V671H1612Z"/><path fill="#f00" d="M1632 592h1V671h-1Z"/><path fill="#00f" d="M1612 612v1H1645v-1ZM1612 641v1H1645v-1ZM1612 670v1H1645v-1Z"/><g mask="url(#mv)"><g mask="url(#mh)"><text class="r" font-size="68.1" transform="translate(1612.67 646)" stroke-width="1.2"><tspan textLength="31.72" lengthAdjust="spacingAndGlyphs">I</tspan></text></g></g></g>
<g filter="url(#px)"><path fill="none" d="M1649 654H1707V733H1649Z"/><path fill="#f00" d="M1661 654h1V733h-1ZM1694 654h1V733h-1Z"/><path fill="#00f" d="M1649 670v1H1707v-1ZM1649 699v1H1707v-1ZM1649 732v1H1707v-1Z"/><g mask="url(#mv)"><g mask="url(#mh)"><text class="r" font-size="68.1" transform="translate(1649.67 708)" stroke-width="1.2"><tspan textLength="31.72" lengthAdjust="spacingAndGlyphs">I</tspan><tspan textLength="31.72" lengthAdjust="spacingAndGlyphs" dx="-6.72">I</tspan></text></g></g></g>
<g filter="url(#px)"><path fill="none" d="M1649 501H1732V580H1649Z"/><path fill="#f00" d="M1661 501h1V580h-1ZM1694 501h1V580h-1ZM1727 501h1V580h-1Z"/><path fill="#00f" d="M1649 521v1H1732v-1ZM1649 550v1H1732v-1ZM1649 579v1H1732v-1Z"/><g mask="url(#mv)"><g mask="url(#mh)"><text class="r" font-size="68.1" transform="translate(1649.67 555)" stroke-width="1.2"><tspan textLength="31.72" lengthAdjust="spacingAndGlyphs">I</tspan><tspan textLength="31.72" lengthAdjust="spacingAndGlyphs" dx="-6.72">I</tspan><tspan textLength="31.72" lengthAdjust="spacingAndGlyphs" dx="-6.72">I</tspan></text></g></g></g>
<g filter="url(#px)"><path fill="none" d="M1719 54H1798V133H1719Z"/><path fill="#f00" d="M1727 54h1V133h-1ZM1756 54h1V133h-1ZM1789 54h1V133h-1Z"/><path fill="#00f" d="M1719 66v1H1798v-1ZM1719 99v1H1798v-1ZM1719 128v1H1798v-1Z"/><g mask="url(#mv)"><g mask="url(#mh)"><text class="r" font-size="68.1" transform="translate(1719.67 108)" stroke-width="1.2"><tspan textLength="31.72" lengthAdjust="spacingAndGlyphs">I</tspan><tspan textLength="47.46" lengthAdjust="spacingAndGlyphs" dx="-4.04" stroke-width="1.8">V</tspan></text></g></g></g>
<g filter="url(#px)"><path fill="none" d="M2033 124H2112V203H2033Z"/><path fill="#f00" d="M2045 124h1V203h-1ZM2074 124h1V203h-1ZM2107 124h1V203h-1Z"/><path fill="#00f" d="M2033 128v1H2112v-1ZM2033 157v1H2112v-1ZM2033 190v1H2112v-1Z"/><g mask="url(#mv)"><g mask="url(#mh)"><text class="r" font-size="68.1" transform="translate(2036.34 178)" stroke-width="1.2"><tspan textLength="47.46" lengthAdjust="spacingAndGlyphs" stroke-width="1.8">V</tspan><tspan textLength="31.72" lengthAdjust="spacingAndGlyphs" dx="-4.13">I</tspan></text></g></g></g>
</g>
</svg>
</body>
</html>
